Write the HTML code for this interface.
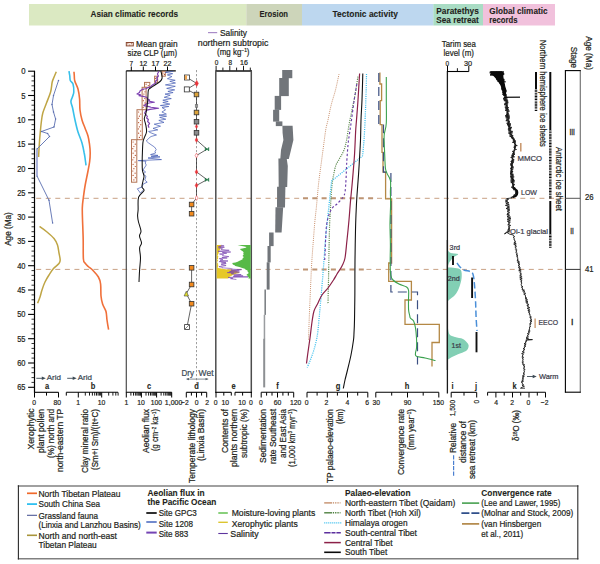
<!DOCTYPE html>
<html lang="en">
<head>
<meta charset="utf-8">
<title>Asian climatic records, erosion, tectonic activity, Paratethys Sea retreat and global climatic records</title>
<style>
html,body{margin:0;padding:0;background:#fff;}
body{width:600px;height:564px;overflow:hidden;}
svg{display:block;font-family:"Liberation Sans",sans-serif;fill:#231f20;}
</style>
</head>
<body>
<svg width="600" height="564" viewBox="0 0 600 564">
<g id="header">
<rect x="29.0" y="4.0" width="217.3" height="21.5" fill="#dbe9c2" stroke="none" stroke-width="1.00"/>
<rect x="246.3" y="4.0" width="55.7" height="21.5" fill="#cdd5ba" stroke="none" stroke-width="1.00"/>
<rect x="302.0" y="4.0" width="131.3" height="21.5" fill="#bdd7ef" stroke="none" stroke-width="1.00"/>
<rect x="433.3" y="4.0" width="49.7" height="21.5" fill="#a9dcc4" stroke="none" stroke-width="1.00"/>
<rect x="483.0" y="4.0" width="72.0" height="21.5" fill="#f1c1dc" stroke="none" stroke-width="1.00"/>
<text stroke="#231f20" stroke-width="0.10" x="90.5" y="17.4" font-size="9.30" font-weight="bold" textLength="87.5" lengthAdjust="spacingAndGlyphs">Asian climatic records</text>
<text stroke="#231f20" stroke-width="0.10" x="259.5" y="17.4" font-size="9.30" font-weight="bold" textLength="28.5" lengthAdjust="spacingAndGlyphs">Erosion</text>
<text stroke="#231f20" stroke-width="0.10" x="332.5" y="17.4" font-size="9.30" font-weight="bold" textLength="65.5" lengthAdjust="spacingAndGlyphs">Tectonic activity</text>
<text stroke="#231f20" stroke-width="0.10" x="436.3" y="13.9" font-size="9.30" font-weight="bold" textLength="42.5" lengthAdjust="spacingAndGlyphs">Paratethys</text>
<text stroke="#231f20" stroke-width="0.10" x="436.3" y="23.0" font-size="9.30" font-weight="bold" textLength="42.5" lengthAdjust="spacingAndGlyphs">Sea retreat</text>
<text stroke="#231f20" stroke-width="0.10" x="489.3" y="13.9" font-size="9.30" font-weight="bold" textLength="58.2" lengthAdjust="spacingAndGlyphs">Global climatic</text>
<text stroke="#231f20" stroke-width="0.10" x="489.3" y="23.0" font-size="9.30" font-weight="bold" textLength="28.2" lengthAdjust="spacingAndGlyphs">records</text>
</g>
<g id="stage-lines">
<line x1="36.2" y1="198.3" x2="303.0" y2="198.3" stroke="#c9a184" stroke-width="1.00" stroke-dasharray="5 4.555"/>
<line x1="303.0" y1="198.3" x2="374.0" y2="198.3" stroke="#bd9473" stroke-width="2.00" stroke-dasharray="5 4.3"/>
<line x1="377.0" y1="198.3" x2="565.0" y2="198.3" stroke="#c9a184" stroke-width="1.00" stroke-dasharray="5 4.555"/>
<line x1="36.2" y1="269.4" x2="303.0" y2="269.4" stroke="#c9a184" stroke-width="1.00" stroke-dasharray="5 4.555"/>
<line x1="303.0" y1="269.4" x2="365.0" y2="269.4" stroke="#bd9473" stroke-width="2.00" stroke-dasharray="5 4.3"/>
<line x1="366.4" y1="269.4" x2="565.0" y2="269.4" stroke="#c9a184" stroke-width="1.00" stroke-dasharray="5 4.555"/>
</g>
<g id="yaxis">
<line x1="34.5" y1="70.7" x2="34.5" y2="392.8" stroke="#000" stroke-width="1.20"/>
<line x1="28.1" y1="71.2" x2="34.5" y2="71.2" stroke="#000" stroke-width="1.10"/>
<text stroke="#231f20" stroke-width="0.22" x="25.5" y="74.2" font-size="9.00" text-anchor="end" textLength="4.3" lengthAdjust="spacingAndGlyphs">0</text>
<line x1="31.5" y1="76.1" x2="34.5" y2="76.1" stroke="#000" stroke-width="0.80"/>
<line x1="31.5" y1="80.9" x2="34.5" y2="80.9" stroke="#000" stroke-width="0.80"/>
<line x1="31.5" y1="85.8" x2="34.5" y2="85.8" stroke="#000" stroke-width="0.80"/>
<line x1="31.5" y1="90.7" x2="34.5" y2="90.7" stroke="#000" stroke-width="0.80"/>
<line x1="28.1" y1="95.5" x2="34.5" y2="95.5" stroke="#000" stroke-width="1.10"/>
<text stroke="#231f20" stroke-width="0.22" x="25.5" y="98.5" font-size="9.00" text-anchor="end" textLength="4.3" lengthAdjust="spacingAndGlyphs">5</text>
<line x1="31.5" y1="100.4" x2="34.5" y2="100.4" stroke="#000" stroke-width="0.80"/>
<line x1="31.5" y1="105.2" x2="34.5" y2="105.2" stroke="#000" stroke-width="0.80"/>
<line x1="31.5" y1="110.1" x2="34.5" y2="110.1" stroke="#000" stroke-width="0.80"/>
<line x1="31.5" y1="115.0" x2="34.5" y2="115.0" stroke="#000" stroke-width="0.80"/>
<line x1="28.1" y1="119.8" x2="34.5" y2="119.8" stroke="#000" stroke-width="1.10"/>
<text stroke="#231f20" stroke-width="0.22" x="25.5" y="122.8" font-size="9.00" text-anchor="end" textLength="8.3" lengthAdjust="spacingAndGlyphs">10</text>
<line x1="31.5" y1="124.7" x2="34.5" y2="124.7" stroke="#000" stroke-width="0.80"/>
<line x1="31.5" y1="129.6" x2="34.5" y2="129.6" stroke="#000" stroke-width="0.80"/>
<line x1="31.5" y1="134.4" x2="34.5" y2="134.4" stroke="#000" stroke-width="0.80"/>
<line x1="31.5" y1="139.3" x2="34.5" y2="139.3" stroke="#000" stroke-width="0.80"/>
<line x1="28.1" y1="144.1" x2="34.5" y2="144.1" stroke="#000" stroke-width="1.10"/>
<text stroke="#231f20" stroke-width="0.22" x="25.5" y="147.1" font-size="9.00" text-anchor="end" textLength="8.3" lengthAdjust="spacingAndGlyphs">15</text>
<line x1="31.5" y1="149.0" x2="34.5" y2="149.0" stroke="#000" stroke-width="0.80"/>
<line x1="31.5" y1="153.9" x2="34.5" y2="153.9" stroke="#000" stroke-width="0.80"/>
<line x1="31.5" y1="158.7" x2="34.5" y2="158.7" stroke="#000" stroke-width="0.80"/>
<line x1="31.5" y1="163.6" x2="34.5" y2="163.6" stroke="#000" stroke-width="0.80"/>
<line x1="28.1" y1="168.5" x2="34.5" y2="168.5" stroke="#000" stroke-width="1.10"/>
<text stroke="#231f20" stroke-width="0.22" x="25.5" y="171.5" font-size="9.00" text-anchor="end" textLength="8.3" lengthAdjust="spacingAndGlyphs">20</text>
<line x1="31.5" y1="173.3" x2="34.5" y2="173.3" stroke="#000" stroke-width="0.80"/>
<line x1="31.5" y1="178.2" x2="34.5" y2="178.2" stroke="#000" stroke-width="0.80"/>
<line x1="31.5" y1="183.0" x2="34.5" y2="183.0" stroke="#000" stroke-width="0.80"/>
<line x1="31.5" y1="187.9" x2="34.5" y2="187.9" stroke="#000" stroke-width="0.80"/>
<line x1="28.1" y1="192.8" x2="34.5" y2="192.8" stroke="#000" stroke-width="1.10"/>
<text stroke="#231f20" stroke-width="0.22" x="25.5" y="195.8" font-size="9.00" text-anchor="end" textLength="8.3" lengthAdjust="spacingAndGlyphs">25</text>
<line x1="31.5" y1="197.6" x2="34.5" y2="197.6" stroke="#000" stroke-width="0.80"/>
<line x1="31.5" y1="202.5" x2="34.5" y2="202.5" stroke="#000" stroke-width="0.80"/>
<line x1="31.5" y1="207.4" x2="34.5" y2="207.4" stroke="#000" stroke-width="0.80"/>
<line x1="31.5" y1="212.2" x2="34.5" y2="212.2" stroke="#000" stroke-width="0.80"/>
<line x1="28.1" y1="217.1" x2="34.5" y2="217.1" stroke="#000" stroke-width="1.10"/>
<text stroke="#231f20" stroke-width="0.22" x="25.5" y="220.1" font-size="9.00" text-anchor="end" textLength="8.3" lengthAdjust="spacingAndGlyphs">30</text>
<line x1="31.5" y1="222.0" x2="34.5" y2="222.0" stroke="#000" stroke-width="0.80"/>
<line x1="31.5" y1="226.8" x2="34.5" y2="226.8" stroke="#000" stroke-width="0.80"/>
<line x1="31.5" y1="231.7" x2="34.5" y2="231.7" stroke="#000" stroke-width="0.80"/>
<line x1="31.5" y1="236.5" x2="34.5" y2="236.5" stroke="#000" stroke-width="0.80"/>
<line x1="28.1" y1="241.4" x2="34.5" y2="241.4" stroke="#000" stroke-width="1.10"/>
<text stroke="#231f20" stroke-width="0.22" x="25.5" y="244.4" font-size="9.00" text-anchor="end" textLength="8.3" lengthAdjust="spacingAndGlyphs">35</text>
<line x1="31.5" y1="246.3" x2="34.5" y2="246.3" stroke="#000" stroke-width="0.80"/>
<line x1="31.5" y1="251.1" x2="34.5" y2="251.1" stroke="#000" stroke-width="0.80"/>
<line x1="31.5" y1="256.0" x2="34.5" y2="256.0" stroke="#000" stroke-width="0.80"/>
<line x1="31.5" y1="260.9" x2="34.5" y2="260.9" stroke="#000" stroke-width="0.80"/>
<line x1="28.1" y1="265.7" x2="34.5" y2="265.7" stroke="#000" stroke-width="1.10"/>
<text stroke="#231f20" stroke-width="0.22" x="25.5" y="268.7" font-size="9.00" text-anchor="end" textLength="8.3" lengthAdjust="spacingAndGlyphs">40</text>
<line x1="31.5" y1="270.6" x2="34.5" y2="270.6" stroke="#000" stroke-width="0.80"/>
<line x1="31.5" y1="275.4" x2="34.5" y2="275.4" stroke="#000" stroke-width="0.80"/>
<line x1="31.5" y1="280.3" x2="34.5" y2="280.3" stroke="#000" stroke-width="0.80"/>
<line x1="31.5" y1="285.2" x2="34.5" y2="285.2" stroke="#000" stroke-width="0.80"/>
<line x1="28.1" y1="290.0" x2="34.5" y2="290.0" stroke="#000" stroke-width="1.10"/>
<text stroke="#231f20" stroke-width="0.22" x="25.5" y="293.0" font-size="9.00" text-anchor="end" textLength="8.3" lengthAdjust="spacingAndGlyphs">45</text>
<line x1="31.5" y1="294.9" x2="34.5" y2="294.9" stroke="#000" stroke-width="0.80"/>
<line x1="31.5" y1="299.8" x2="34.5" y2="299.8" stroke="#000" stroke-width="0.80"/>
<line x1="31.5" y1="304.6" x2="34.5" y2="304.6" stroke="#000" stroke-width="0.80"/>
<line x1="31.5" y1="309.5" x2="34.5" y2="309.5" stroke="#000" stroke-width="0.80"/>
<line x1="28.1" y1="314.4" x2="34.5" y2="314.4" stroke="#000" stroke-width="1.10"/>
<text stroke="#231f20" stroke-width="0.22" x="25.5" y="317.4" font-size="9.00" text-anchor="end" textLength="8.3" lengthAdjust="spacingAndGlyphs">50</text>
<line x1="31.5" y1="319.2" x2="34.5" y2="319.2" stroke="#000" stroke-width="0.80"/>
<line x1="31.5" y1="324.1" x2="34.5" y2="324.1" stroke="#000" stroke-width="0.80"/>
<line x1="31.5" y1="328.9" x2="34.5" y2="328.9" stroke="#000" stroke-width="0.80"/>
<line x1="31.5" y1="333.8" x2="34.5" y2="333.8" stroke="#000" stroke-width="0.80"/>
<line x1="28.1" y1="338.7" x2="34.5" y2="338.7" stroke="#000" stroke-width="1.10"/>
<text stroke="#231f20" stroke-width="0.22" x="25.5" y="341.7" font-size="9.00" text-anchor="end" textLength="8.3" lengthAdjust="spacingAndGlyphs">55</text>
<line x1="31.5" y1="343.5" x2="34.5" y2="343.5" stroke="#000" stroke-width="0.80"/>
<line x1="31.5" y1="348.4" x2="34.5" y2="348.4" stroke="#000" stroke-width="0.80"/>
<line x1="31.5" y1="353.3" x2="34.5" y2="353.3" stroke="#000" stroke-width="0.80"/>
<line x1="31.5" y1="358.1" x2="34.5" y2="358.1" stroke="#000" stroke-width="0.80"/>
<line x1="28.1" y1="363.0" x2="34.5" y2="363.0" stroke="#000" stroke-width="1.10"/>
<text stroke="#231f20" stroke-width="0.22" x="25.5" y="366.0" font-size="9.00" text-anchor="end" textLength="8.3" lengthAdjust="spacingAndGlyphs">60</text>
<line x1="31.5" y1="367.8" x2="34.5" y2="367.8" stroke="#000" stroke-width="0.80"/>
<line x1="31.5" y1="372.7" x2="34.5" y2="372.7" stroke="#000" stroke-width="0.80"/>
<line x1="31.5" y1="377.6" x2="34.5" y2="377.6" stroke="#000" stroke-width="0.80"/>
<line x1="31.5" y1="382.4" x2="34.5" y2="382.4" stroke="#000" stroke-width="0.80"/>
<line x1="28.1" y1="387.3" x2="34.5" y2="387.3" stroke="#000" stroke-width="1.10"/>
<text stroke="#231f20" stroke-width="0.22" x="25.5" y="390.3" font-size="9.00" text-anchor="end" textLength="8.3" lengthAdjust="spacingAndGlyphs">65</text>
<text stroke="#231f20" stroke-width="0.22" transform="translate(11.2 229.0) rotate(-90)" font-size="8.70" text-anchor="middle" textLength="33.7" lengthAdjust="spacingAndGlyphs">Age (Ma)</text>
</g>
<g id="axes-bottom">
<line x1="34.5" y1="392.3" x2="58.5" y2="392.3" stroke="#000" stroke-width="1.10"/>
<line x1="34.5" y1="392.3" x2="34.5" y2="397.5" stroke="#000" stroke-width="1.00"/>
<line x1="58.5" y1="392.3" x2="58.5" y2="397.5" stroke="#000" stroke-width="1.00"/>
<line x1="46.5" y1="392.3" x2="46.5" y2="395.6" stroke="#000" stroke-width="1.00"/>
<text stroke="#231f20" stroke-width="0.22" x="34.2" y="405.2" font-size="7.90" text-anchor="middle" textLength="3.8" lengthAdjust="spacingAndGlyphs">0</text>
<text stroke="#231f20" stroke-width="0.22" x="57.3" y="405.2" font-size="7.90" text-anchor="middle" textLength="7.6" lengthAdjust="spacingAndGlyphs">80</text>
<line x1="36.3" y1="378.3" x2="43.3" y2="378.3" stroke="#3c4a55" stroke-width="0.90"/>
<path d="M45.8 378.3 l-4 -1.7 v3.4z" fill="#3c4a55"/>
<text stroke="#3c4a55" stroke-width="0.22" x="46.8" y="380.3" font-size="8.00" textLength="14.2" lengthAdjust="spacingAndGlyphs" fill="#3c4a55">Arid</text>
<text stroke="#231f20" stroke-width="0.10" x="47.0" y="389.0" font-size="8.80" text-anchor="middle" font-weight="bold" textLength="4.2" lengthAdjust="spacingAndGlyphs">a</text>
<text stroke="#231f20" stroke-width="0.22" transform="translate(34.2 408.5) rotate(-90)" font-size="8.70" text-anchor="end" textLength="41.0" lengthAdjust="spacingAndGlyphs">Xerophytic</text>
<text stroke="#231f20" stroke-width="0.22" transform="translate(44.0 409.0) rotate(-90)" font-size="8.70" text-anchor="end" textLength="44.0" lengthAdjust="spacingAndGlyphs">plant pollen</text>
<text stroke="#231f20" stroke-width="0.22" transform="translate(53.6 409.0) rotate(-90)" font-size="8.70" text-anchor="end" textLength="49.0" lengthAdjust="spacingAndGlyphs">(%) north and</text>
<text stroke="#231f20" stroke-width="0.22" transform="translate(63.0 409.0) rotate(-90)" font-size="8.70" text-anchor="end" textLength="63.0" lengthAdjust="spacingAndGlyphs">north-eastern TP</text>
<line x1="66.3" y1="392.3" x2="118.0" y2="392.3" stroke="#000" stroke-width="1.10"/>
<line x1="66.3" y1="392.3" x2="66.3" y2="395.6" stroke="#000" stroke-width="1.00"/>
<line x1="78.3" y1="392.3" x2="78.3" y2="397.5" stroke="#000" stroke-width="1.00"/>
<line x1="101.7" y1="392.3" x2="101.7" y2="397.5" stroke="#000" stroke-width="1.00"/>
<line x1="85.3" y1="392.3" x2="85.3" y2="395.6" stroke="#000" stroke-width="0.90"/>
<line x1="89.5" y1="392.3" x2="89.5" y2="395.6" stroke="#000" stroke-width="0.90"/>
<line x1="92.4" y1="392.3" x2="92.4" y2="395.6" stroke="#000" stroke-width="0.90"/>
<line x1="94.7" y1="392.3" x2="94.7" y2="395.6" stroke="#000" stroke-width="0.90"/>
<line x1="96.5" y1="392.3" x2="96.5" y2="395.6" stroke="#000" stroke-width="0.90"/>
<line x1="98.1" y1="392.3" x2="98.1" y2="395.6" stroke="#000" stroke-width="0.90"/>
<line x1="99.4" y1="392.3" x2="99.4" y2="395.6" stroke="#000" stroke-width="0.90"/>
<line x1="100.6" y1="392.3" x2="100.6" y2="395.6" stroke="#000" stroke-width="0.90"/>
<line x1="108.7" y1="392.3" x2="108.7" y2="395.6" stroke="#000" stroke-width="0.90"/>
<line x1="112.9" y1="392.3" x2="112.9" y2="395.6" stroke="#000" stroke-width="0.90"/>
<line x1="115.8" y1="392.3" x2="115.8" y2="395.6" stroke="#000" stroke-width="0.90"/>
<line x1="118.1" y1="392.3" x2="118.1" y2="395.6" stroke="#000" stroke-width="0.90"/>
<text stroke="#231f20" stroke-width="0.22" x="78.1" y="405.2" font-size="7.90" text-anchor="middle" textLength="3.8" lengthAdjust="spacingAndGlyphs">1</text>
<text stroke="#231f20" stroke-width="0.22" x="101.5" y="405.2" font-size="7.90" text-anchor="middle" textLength="7.6" lengthAdjust="spacingAndGlyphs">10</text>
<line x1="67.2" y1="378.3" x2="74.2" y2="378.3" stroke="#3c4a55" stroke-width="0.90"/>
<path d="M76.7 378.3 l-4 -1.7 v3.4z" fill="#3c4a55"/>
<text stroke="#3c4a55" stroke-width="0.22" x="77.8" y="380.3" font-size="8.00" textLength="14.2" lengthAdjust="spacingAndGlyphs" fill="#3c4a55">Arid</text>
<text stroke="#231f20" stroke-width="0.10" x="93.0" y="389.0" font-size="8.80" text-anchor="middle" font-weight="bold" textLength="4.6" lengthAdjust="spacingAndGlyphs">b</text>
<text stroke="#231f20" stroke-width="0.22" transform="translate(88.0 409.0) rotate(-90)" font-size="8.70" text-anchor="end" textLength="64.0" lengthAdjust="spacingAndGlyphs">Clay mineral ratio</text>
<text stroke="#231f20" stroke-width="0.22" transform="translate(97.6 409.0) rotate(-90)" font-size="8.70" text-anchor="end" textLength="61.0" lengthAdjust="spacingAndGlyphs">(Sm+I Sm)/(It+C)</text>
<line x1="126.3" y1="70.8" x2="126.3" y2="392.8" stroke="#4d4d4d" stroke-width="1.20"/>
<line x1="126.3" y1="392.3" x2="171.7" y2="392.3" stroke="#000" stroke-width="1.10"/>
<line x1="126.3" y1="392.3" x2="126.3" y2="397.5" stroke="#000" stroke-width="1.00"/>
<line x1="141.4" y1="392.3" x2="141.4" y2="397.5" stroke="#000" stroke-width="1.00"/>
<line x1="156.6" y1="392.3" x2="156.6" y2="397.5" stroke="#000" stroke-width="1.00"/>
<line x1="171.7" y1="392.3" x2="171.7" y2="397.5" stroke="#000" stroke-width="1.00"/>
<line x1="130.9" y1="392.3" x2="130.9" y2="395.6" stroke="#000" stroke-width="0.90"/>
<line x1="133.5" y1="392.3" x2="133.5" y2="395.6" stroke="#000" stroke-width="0.90"/>
<line x1="135.4" y1="392.3" x2="135.4" y2="395.6" stroke="#000" stroke-width="0.90"/>
<line x1="136.9" y1="392.3" x2="136.9" y2="395.6" stroke="#000" stroke-width="0.90"/>
<line x1="138.1" y1="392.3" x2="138.1" y2="395.6" stroke="#000" stroke-width="0.90"/>
<line x1="139.1" y1="392.3" x2="139.1" y2="395.6" stroke="#000" stroke-width="0.90"/>
<line x1="140.0" y1="392.3" x2="140.0" y2="395.6" stroke="#000" stroke-width="0.90"/>
<line x1="140.7" y1="392.3" x2="140.7" y2="395.6" stroke="#000" stroke-width="0.90"/>
<line x1="146.0" y1="392.3" x2="146.0" y2="395.6" stroke="#000" stroke-width="0.90"/>
<line x1="148.6" y1="392.3" x2="148.6" y2="395.6" stroke="#000" stroke-width="0.90"/>
<line x1="150.5" y1="392.3" x2="150.5" y2="395.6" stroke="#000" stroke-width="0.90"/>
<line x1="152.0" y1="392.3" x2="152.0" y2="395.6" stroke="#000" stroke-width="0.90"/>
<line x1="153.2" y1="392.3" x2="153.2" y2="395.6" stroke="#000" stroke-width="0.90"/>
<line x1="154.2" y1="392.3" x2="154.2" y2="395.6" stroke="#000" stroke-width="0.90"/>
<line x1="155.1" y1="392.3" x2="155.1" y2="395.6" stroke="#000" stroke-width="0.90"/>
<line x1="155.9" y1="392.3" x2="155.9" y2="395.6" stroke="#000" stroke-width="0.90"/>
<line x1="161.1" y1="392.3" x2="161.1" y2="395.6" stroke="#000" stroke-width="0.90"/>
<line x1="163.8" y1="392.3" x2="163.8" y2="395.6" stroke="#000" stroke-width="0.90"/>
<line x1="165.7" y1="392.3" x2="165.7" y2="395.6" stroke="#000" stroke-width="0.90"/>
<line x1="167.1" y1="392.3" x2="167.1" y2="395.6" stroke="#000" stroke-width="0.90"/>
<line x1="168.3" y1="392.3" x2="168.3" y2="395.6" stroke="#000" stroke-width="0.90"/>
<line x1="169.3" y1="392.3" x2="169.3" y2="395.6" stroke="#000" stroke-width="0.90"/>
<line x1="170.2" y1="392.3" x2="170.2" y2="395.6" stroke="#000" stroke-width="0.90"/>
<line x1="171.0" y1="392.3" x2="171.0" y2="395.6" stroke="#000" stroke-width="0.90"/>
<text stroke="#231f20" stroke-width="0.22" x="126.3" y="405.2" font-size="7.90" text-anchor="middle" textLength="3.8" lengthAdjust="spacingAndGlyphs">1</text>
<text stroke="#231f20" stroke-width="0.22" x="141.0" y="405.2" font-size="7.90" text-anchor="middle" textLength="7.6" lengthAdjust="spacingAndGlyphs">10</text>
<text stroke="#231f20" stroke-width="0.22" x="156.4" y="405.2" font-size="7.90" text-anchor="middle" textLength="11.3" lengthAdjust="spacingAndGlyphs">100</text>
<text stroke="#231f20" stroke-width="0.22" x="173.6" y="405.2" font-size="7.90" text-anchor="middle" textLength="17.5" lengthAdjust="spacingAndGlyphs">1,000</text>
<text stroke="#231f20" stroke-width="0.10" x="149.0" y="389.0" font-size="8.80" text-anchor="middle" font-weight="bold" textLength="4.2" lengthAdjust="spacingAndGlyphs">c</text>
<text stroke="#231f20" stroke-width="0.22" transform="translate(148.5 409.0) rotate(-90)" font-size="8.70" text-anchor="end" textLength="44.0" lengthAdjust="spacingAndGlyphs">Aeolian flux</text>
<text stroke="#231f20" stroke-width="0.22" transform="translate(158.1 409.0) rotate(-90)" font-size="8.70" text-anchor="end" textLength="42.0" lengthAdjust="spacingAndGlyphs">(g cm<tspan font-size="5" dy="-2.6">−2</tspan><tspan dy="2.6"> ka</tspan><tspan font-size="5" dy="-2.6">−1</tspan><tspan dy="2.6">)</tspan></text>
<line x1="126.3" y1="70.9" x2="175.8" y2="70.9" stroke="#000" stroke-width="1.10"/>
<line x1="131.3" y1="66.5" x2="131.3" y2="70.9" stroke="#000" stroke-width="1.00"/>
<text stroke="#231f20" stroke-width="0.22" x="131.3" y="66.0" font-size="7.60" text-anchor="middle" textLength="3.6" lengthAdjust="spacingAndGlyphs">7</text>
<line x1="143.3" y1="66.5" x2="143.3" y2="70.9" stroke="#000" stroke-width="1.00"/>
<text stroke="#231f20" stroke-width="0.22" x="143.3" y="66.0" font-size="7.60" text-anchor="middle" textLength="7.8" lengthAdjust="spacingAndGlyphs">12</text>
<line x1="155.5" y1="66.5" x2="155.5" y2="70.9" stroke="#000" stroke-width="1.00"/>
<text stroke="#231f20" stroke-width="0.22" x="155.5" y="66.0" font-size="7.60" text-anchor="middle" textLength="7.8" lengthAdjust="spacingAndGlyphs">17</text>
<line x1="167.5" y1="66.5" x2="167.5" y2="70.9" stroke="#000" stroke-width="1.00"/>
<text stroke="#231f20" stroke-width="0.22" x="167.5" y="66.0" font-size="7.60" text-anchor="middle" textLength="7.8" lengthAdjust="spacingAndGlyphs">22</text>
<text stroke="#231f20" stroke-width="0.22" x="136.0" y="47.2" font-size="9.20" textLength="41.5" lengthAdjust="spacingAndGlyphs">Mean grain</text>
<text stroke="#231f20" stroke-width="0.22" x="127.5" y="56.4" font-size="9.20" textLength="49.5" lengthAdjust="spacingAndGlyphs">size CLP (µm)</text>
<rect x="126.3" y="42.5" width="7.0" height="3.4" fill="#f6e9e2" stroke="#8a4a32" stroke-width="1.00"/>
<circle cx="127.8" cy="43.7" r="0.5" fill="#a0482c"/>
<circle cx="129.7" cy="44.9" r="0.5" fill="#a0482c"/>
<circle cx="131.5" cy="43.8" r="0.5" fill="#a0482c"/>
<line x1="186.3" y1="392.3" x2="206.7" y2="392.3" stroke="#000" stroke-width="1.10"/>
<line x1="186.3" y1="392.3" x2="186.3" y2="397.5" stroke="#000" stroke-width="1.00"/>
<line x1="196.5" y1="392.3" x2="196.5" y2="397.5" stroke="#000" stroke-width="1.00"/>
<line x1="206.7" y1="392.3" x2="206.7" y2="397.5" stroke="#000" stroke-width="1.00"/>
<line x1="191.4" y1="392.3" x2="191.4" y2="395.6" stroke="#000" stroke-width="1.00"/>
<line x1="201.6" y1="392.3" x2="201.6" y2="395.6" stroke="#000" stroke-width="1.00"/>
<text stroke="#231f20" stroke-width="0.22" x="188.7" y="405.2" font-size="7.90" text-anchor="end" textLength="7.6" lengthAdjust="spacingAndGlyphs">−2</text>
<text stroke="#231f20" stroke-width="0.22" x="196.6" y="405.2" font-size="7.90" text-anchor="middle" textLength="3.8" lengthAdjust="spacingAndGlyphs">0</text>
<text stroke="#231f20" stroke-width="0.22" x="207.2" y="405.2" font-size="7.90" text-anchor="middle" textLength="3.8" lengthAdjust="spacingAndGlyphs">2</text>
<text stroke="#231f20" stroke-width="0.10" x="196.5" y="389.0" font-size="8.80" text-anchor="middle" font-weight="bold" textLength="4.6" lengthAdjust="spacingAndGlyphs">d</text>
<text stroke="#3c4a55" stroke-width="0.22" x="181.5" y="375.9" font-size="8.40" textLength="12.5" lengthAdjust="spacingAndGlyphs" fill="#3c4a55">Dry</text>
<text stroke="#3c4a55" stroke-width="0.22" x="198.6" y="375.9" font-size="8.40" textLength="14.9" lengthAdjust="spacingAndGlyphs" fill="#3c4a55">Wet</text>
<line x1="187.0" y1="379.1" x2="207.5" y2="379.1" stroke="#55606a" stroke-width="0.70"/>
<path d="M185.8 379.1 l3.2 -1.2 v2.4z M208.7 379.1 l-3.2 -1.2 v2.4z" fill="#55606a"/>
<text stroke="#231f20" stroke-width="0.22" transform="translate(195.1 409.0) rotate(-90)" font-size="8.70" text-anchor="end" textLength="74.0" lengthAdjust="spacingAndGlyphs">Temperate lithology</text>
<text stroke="#231f20" stroke-width="0.22" transform="translate(204.0 409.0) rotate(-90)" font-size="8.70" text-anchor="end" textLength="52.0" lengthAdjust="spacingAndGlyphs">(Linxia Basin)</text>
<line x1="215.8" y1="71.2" x2="215.8" y2="392.8" stroke="#4d4d4d" stroke-width="1.50"/>
<line x1="251.3" y1="71.2" x2="251.3" y2="392.8" stroke="#4d4d4d" stroke-width="1.50"/>
<line x1="215.3" y1="70.9" x2="252.0" y2="70.9" stroke="#4d4d4d" stroke-width="2.00"/>
<line x1="215.3" y1="392.3" x2="231.3" y2="392.3" stroke="#000" stroke-width="1.10"/>
<line x1="235.0" y1="392.3" x2="252.0" y2="392.3" stroke="#000" stroke-width="1.10"/>
<line x1="216.0" y1="392.3" x2="216.0" y2="397.5" stroke="#000" stroke-width="1.00"/>
<line x1="251.3" y1="392.3" x2="251.3" y2="397.5" stroke="#000" stroke-width="1.00"/>
<line x1="223.8" y1="392.3" x2="223.8" y2="395.6" stroke="#000" stroke-width="1.00"/>
<line x1="242.6" y1="392.3" x2="242.6" y2="395.6" stroke="#000" stroke-width="1.00"/>
<line x1="231.3" y1="392.3" x2="231.3" y2="395.6" stroke="#000" stroke-width="1.00"/>
<line x1="235.0" y1="392.3" x2="235.0" y2="395.6" stroke="#000" stroke-width="1.00"/>
<text stroke="#231f20" stroke-width="0.22" x="215.6" y="405.2" font-size="7.90" text-anchor="middle" textLength="3.8" lengthAdjust="spacingAndGlyphs">0</text>
<text stroke="#231f20" stroke-width="0.22" x="225.2" y="405.2" font-size="7.90" text-anchor="middle" textLength="7.6" lengthAdjust="spacingAndGlyphs">10</text>
<text stroke="#231f20" stroke-width="0.22" x="242.0" y="405.2" font-size="7.90" text-anchor="middle" textLength="7.6" lengthAdjust="spacingAndGlyphs">10</text>
<text stroke="#231f20" stroke-width="0.22" x="250.8" y="405.2" font-size="7.90" text-anchor="middle" textLength="3.8" lengthAdjust="spacingAndGlyphs">0</text>
<text stroke="#231f20" stroke-width="0.10" x="233.5" y="389.0" font-size="8.80" text-anchor="middle" font-weight="bold" textLength="4.2" lengthAdjust="spacingAndGlyphs">e</text>
<line x1="216.1" y1="65.8" x2="216.1" y2="70.5" stroke="#000" stroke-width="0.90"/>
<line x1="222.9" y1="67.6" x2="222.9" y2="70.5" stroke="#000" stroke-width="0.90"/>
<line x1="229.8" y1="65.8" x2="229.8" y2="70.5" stroke="#000" stroke-width="0.90"/>
<line x1="236.6" y1="67.6" x2="236.6" y2="70.5" stroke="#000" stroke-width="0.90"/>
<line x1="243.5" y1="65.8" x2="243.5" y2="70.5" stroke="#000" stroke-width="0.90"/>
<line x1="250.3" y1="67.6" x2="250.3" y2="70.5" stroke="#000" stroke-width="0.90"/>
<text stroke="#231f20" stroke-width="0.22" x="216.5" y="65.3" font-size="7.60" text-anchor="middle" textLength="3.6" lengthAdjust="spacingAndGlyphs">0</text>
<text stroke="#231f20" stroke-width="0.22" x="230.2" y="65.3" font-size="7.60" text-anchor="middle" textLength="3.6" lengthAdjust="spacingAndGlyphs">8</text>
<text stroke="#231f20" stroke-width="0.22" x="244.0" y="65.3" font-size="7.60" text-anchor="middle" textLength="7.8" lengthAdjust="spacingAndGlyphs">16</text>
<line x1="208.0" y1="32.6" x2="217.2" y2="32.6" stroke="#a98cc8" stroke-width="1.20"/>
<text stroke="#231f20" stroke-width="0.22" x="220.0" y="35.8" font-size="9.20" textLength="27.0" lengthAdjust="spacingAndGlyphs">Salinity</text>
<text stroke="#231f20" stroke-width="0.22" x="197.8" y="45.8" font-size="9.20" textLength="70.5" lengthAdjust="spacingAndGlyphs">northern subtropic</text>
<text stroke="#231f20" stroke-width="0.22" x="217.0" y="55.2" font-size="9.20" textLength="32.5" lengthAdjust="spacingAndGlyphs">(mg kg<tspan font-size="5.6" dy="-3">−1</tspan><tspan dy="3">)</tspan></text>
<text stroke="#231f20" stroke-width="0.22" transform="translate(227.5 409.0) rotate(-90)" font-size="8.70" text-anchor="end" textLength="44.0" lengthAdjust="spacingAndGlyphs">Contents of</text>
<text stroke="#231f20" stroke-width="0.22" transform="translate(237.4 409.0) rotate(-90)" font-size="8.70" text-anchor="end" textLength="58.0" lengthAdjust="spacingAndGlyphs">plants northern</text>
<text stroke="#231f20" stroke-width="0.22" transform="translate(247.0 409.0) rotate(-90)" font-size="8.70" text-anchor="end" textLength="49.0" lengthAdjust="spacingAndGlyphs">subtropic (%)</text>
<line x1="261.2" y1="392.3" x2="293.7" y2="392.3" stroke="#000" stroke-width="1.10"/>
<line x1="261.2" y1="392.3" x2="261.2" y2="397.5" stroke="#000" stroke-width="1.00"/>
<line x1="277.5" y1="392.3" x2="277.5" y2="397.5" stroke="#000" stroke-width="1.00"/>
<line x1="293.7" y1="392.3" x2="293.7" y2="397.5" stroke="#000" stroke-width="1.00"/>
<line x1="266.6" y1="392.3" x2="266.6" y2="395.6" stroke="#000" stroke-width="1.00"/>
<line x1="272.0" y1="392.3" x2="272.0" y2="395.6" stroke="#000" stroke-width="1.00"/>
<line x1="282.9" y1="392.3" x2="282.9" y2="395.6" stroke="#000" stroke-width="1.00"/>
<line x1="288.3" y1="392.3" x2="288.3" y2="395.6" stroke="#000" stroke-width="1.00"/>
<text stroke="#231f20" stroke-width="0.22" x="261.0" y="405.2" font-size="7.90" text-anchor="middle" textLength="3.8" lengthAdjust="spacingAndGlyphs">0</text>
<text stroke="#231f20" stroke-width="0.22" x="277.5" y="405.2" font-size="7.90" text-anchor="middle" textLength="7.6" lengthAdjust="spacingAndGlyphs">60</text>
<text stroke="#231f20" stroke-width="0.22" x="295.6" y="405.2" font-size="7.90" text-anchor="middle" textLength="11.3" lengthAdjust="spacingAndGlyphs">120</text>
<text stroke="#231f20" stroke-width="0.10" x="277.5" y="389.0" font-size="8.80" text-anchor="middle" font-weight="bold" textLength="2.5" lengthAdjust="spacingAndGlyphs">f</text>
<text stroke="#231f20" stroke-width="0.22" transform="translate(265.8 409.0) rotate(-90)" font-size="8.70" text-anchor="end" textLength="54.0" lengthAdjust="spacingAndGlyphs">Sedimentation</text>
<text stroke="#231f20" stroke-width="0.22" transform="translate(276.1 409.0) rotate(-90)" font-size="8.70" text-anchor="end" textLength="55.0" lengthAdjust="spacingAndGlyphs">rate Southeast</text>
<text stroke="#231f20" stroke-width="0.22" transform="translate(285.7 409.0) rotate(-90)" font-size="8.70" text-anchor="end" textLength="49.0" lengthAdjust="spacingAndGlyphs">and East Asia</text>
<text stroke="#231f20" stroke-width="0.22" transform="translate(295.0 409.0) rotate(-90)" font-size="8.70" text-anchor="end" textLength="58.0" lengthAdjust="spacingAndGlyphs">(1,000 km<tspan font-size="5" dy="-2.6">3</tspan><tspan dy="2.6"> myr</tspan><tspan font-size="5" dy="-2.6">−1</tspan><tspan dy="2.6">)</tspan></text>
<line x1="307.0" y1="392.3" x2="367.8" y2="392.3" stroke="#000" stroke-width="1.10"/>
<line x1="307.0" y1="392.3" x2="307.0" y2="397.5" stroke="#000" stroke-width="1.00"/>
<line x1="327.3" y1="392.3" x2="327.3" y2="397.5" stroke="#000" stroke-width="1.00"/>
<line x1="347.5" y1="392.3" x2="347.5" y2="397.5" stroke="#000" stroke-width="1.00"/>
<line x1="367.8" y1="392.3" x2="367.8" y2="397.5" stroke="#000" stroke-width="1.00"/>
<line x1="317.1" y1="392.3" x2="317.1" y2="395.6" stroke="#000" stroke-width="1.00"/>
<line x1="337.4" y1="392.3" x2="337.4" y2="395.6" stroke="#000" stroke-width="1.00"/>
<line x1="357.7" y1="392.3" x2="357.7" y2="395.6" stroke="#000" stroke-width="1.00"/>
<text stroke="#231f20" stroke-width="0.22" x="306.6" y="405.2" font-size="7.90" text-anchor="middle" textLength="3.8" lengthAdjust="spacingAndGlyphs">0</text>
<text stroke="#231f20" stroke-width="0.22" x="326.4" y="405.2" font-size="7.90" text-anchor="middle" textLength="3.8" lengthAdjust="spacingAndGlyphs">2</text>
<text stroke="#231f20" stroke-width="0.22" x="347.4" y="405.2" font-size="7.90" text-anchor="middle" textLength="3.8" lengthAdjust="spacingAndGlyphs">4</text>
<text stroke="#231f20" stroke-width="0.22" x="367.2" y="405.2" font-size="7.90" text-anchor="middle" textLength="3.8" lengthAdjust="spacingAndGlyphs">6</text>
<text stroke="#231f20" stroke-width="0.10" x="338.0" y="389.0" font-size="8.80" text-anchor="middle" font-weight="bold" textLength="4.6" lengthAdjust="spacingAndGlyphs">g</text>
<text stroke="#231f20" stroke-width="0.22" transform="translate(333.4 409.0) rotate(-90)" font-size="8.70" text-anchor="end" textLength="74.0" lengthAdjust="spacingAndGlyphs">TP palaeo-elevation</text>
<text stroke="#231f20" stroke-width="0.22" transform="translate(343.0 409.0) rotate(-90)" font-size="8.70" text-anchor="end" textLength="15.0" lengthAdjust="spacingAndGlyphs">(km)</text>
<line x1="375.8" y1="392.3" x2="438.8" y2="392.3" stroke="#000" stroke-width="1.10"/>
<line x1="375.8" y1="392.3" x2="375.8" y2="397.5" stroke="#000" stroke-width="1.00"/>
<line x1="407.5" y1="392.3" x2="407.5" y2="397.5" stroke="#000" stroke-width="1.00"/>
<line x1="438.8" y1="392.3" x2="438.8" y2="397.5" stroke="#000" stroke-width="1.00"/>
<line x1="391.7" y1="392.3" x2="391.7" y2="395.6" stroke="#000" stroke-width="1.00"/>
<line x1="423.2" y1="392.3" x2="423.2" y2="395.6" stroke="#000" stroke-width="1.00"/>
<text stroke="#231f20" stroke-width="0.22" x="376.2" y="405.2" font-size="7.90" text-anchor="middle" textLength="7.6" lengthAdjust="spacingAndGlyphs">30</text>
<text stroke="#231f20" stroke-width="0.22" x="407.5" y="405.2" font-size="7.90" text-anchor="middle" textLength="7.6" lengthAdjust="spacingAndGlyphs">90</text>
<text stroke="#231f20" stroke-width="0.22" x="438.4" y="405.2" font-size="7.90" text-anchor="middle" textLength="11.3" lengthAdjust="spacingAndGlyphs">150</text>
<text stroke="#231f20" stroke-width="0.10" x="407.0" y="389.0" font-size="8.80" text-anchor="middle" font-weight="bold" textLength="4.6" lengthAdjust="spacingAndGlyphs">h</text>
<text stroke="#231f20" stroke-width="0.22" transform="translate(404.2 409.0) rotate(-90)" font-size="8.70" text-anchor="end" textLength="66.0" lengthAdjust="spacingAndGlyphs">Convergence rate</text>
<text stroke="#231f20" stroke-width="0.22" transform="translate(413.9 409.0) rotate(-90)" font-size="8.70" text-anchor="end" textLength="41.0" lengthAdjust="spacingAndGlyphs">(mm year<tspan font-size="5" dy="-2.6">−1</tspan><tspan dy="2.6">)</tspan></text>
<line x1="447.4" y1="71.0" x2="447.4" y2="393.5" stroke="#1a1a1a" stroke-width="1.30"/>
<line x1="447.4" y1="71.5" x2="468.8" y2="71.5" stroke="#000" stroke-width="1.10"/>
<line x1="447.5" y1="66.0" x2="447.5" y2="71.5" stroke="#000" stroke-width="1.00"/>
<line x1="457.4" y1="68.2" x2="457.4" y2="71.5" stroke="#000" stroke-width="0.90"/>
<line x1="468.8" y1="66.0" x2="468.8" y2="71.5" stroke="#000" stroke-width="1.00"/>
<text stroke="#231f20" stroke-width="0.22" x="447.2" y="65.7" font-size="7.60" text-anchor="middle" textLength="3.6" lengthAdjust="spacingAndGlyphs">0</text>
<text stroke="#231f20" stroke-width="0.22" x="468.0" y="65.7" font-size="7.60" text-anchor="middle" textLength="8.2" lengthAdjust="spacingAndGlyphs">30</text>
<text stroke="#231f20" stroke-width="0.22" x="441.8" y="46.7" font-size="9.20" textLength="34.0" lengthAdjust="spacingAndGlyphs">Tarim sea</text>
<text stroke="#231f20" stroke-width="0.22" x="443.5" y="56.1" font-size="9.20" textLength="30.5" lengthAdjust="spacingAndGlyphs">level (m)</text>
<line x1="451.2" y1="392.3" x2="476.7" y2="392.3" stroke="#000" stroke-width="1.10"/>
<line x1="451.2" y1="392.3" x2="451.2" y2="397.5" stroke="#000" stroke-width="1.00"/>
<line x1="476.7" y1="392.3" x2="476.7" y2="397.5" stroke="#000" stroke-width="1.00"/>
<line x1="464.0" y1="392.3" x2="464.0" y2="395.6" stroke="#000" stroke-width="1.00"/>
<text stroke="#231f20" stroke-width="0.10" x="452.5" y="389.0" font-size="8.80" text-anchor="middle" font-weight="bold" textLength="2.1" lengthAdjust="spacingAndGlyphs">i</text>
<text stroke="#231f20" stroke-width="0.10" x="476.0" y="389.0" font-size="8.80" text-anchor="middle" font-weight="bold" textLength="2.1" lengthAdjust="spacingAndGlyphs">j</text>
<text stroke="#231f20" stroke-width="0.22" transform="translate(455.1 399.8) rotate(-90)" font-size="7.60" text-anchor="end" textLength="16.5" lengthAdjust="spacingAndGlyphs">1,500</text>
<text stroke="#231f20" stroke-width="0.22" transform="translate(479.0 399.8) rotate(-90)" font-size="7.60" text-anchor="end" textLength="3.6" lengthAdjust="spacingAndGlyphs">0</text>
<text stroke="#231f20" stroke-width="0.22" transform="translate(455.8 423.0) rotate(-90)" font-size="8.70" text-anchor="end" textLength="30.0" lengthAdjust="spacingAndGlyphs">Relative</text>
<line x1="453.6" y1="455.3" x2="453.6" y2="476.8" stroke="#4a7fd0" stroke-width="1.20" stroke-dasharray="4.2 1.2"/>
<text stroke="#231f20" stroke-width="0.22" transform="translate(465.5 421.0) rotate(-90)" font-size="8.70" text-anchor="end" textLength="42.0" lengthAdjust="spacingAndGlyphs">distance of</text>
<text stroke="#231f20" stroke-width="0.22" transform="translate(475.2 420.0) rotate(-90)" font-size="8.70" text-anchor="end" textLength="59.0" lengthAdjust="spacingAndGlyphs">sea retreat (km)</text>
<line x1="487.6" y1="392.3" x2="545.5" y2="392.3" stroke="#000" stroke-width="1.10"/>
<line x1="495.9" y1="392.3" x2="495.9" y2="397.5" stroke="#000" stroke-width="1.00"/>
<line x1="512.5" y1="392.3" x2="512.5" y2="397.5" stroke="#000" stroke-width="1.00"/>
<line x1="529.0" y1="392.3" x2="529.0" y2="397.5" stroke="#000" stroke-width="1.00"/>
<line x1="545.5" y1="392.3" x2="545.5" y2="397.5" stroke="#000" stroke-width="1.00"/>
<line x1="487.6" y1="392.3" x2="487.6" y2="395.6" stroke="#000" stroke-width="1.00"/>
<line x1="504.2" y1="392.3" x2="504.2" y2="395.6" stroke="#000" stroke-width="1.00"/>
<line x1="520.7" y1="392.3" x2="520.7" y2="395.6" stroke="#000" stroke-width="1.00"/>
<line x1="537.3" y1="392.3" x2="537.3" y2="395.6" stroke="#000" stroke-width="1.00"/>
<text stroke="#231f20" stroke-width="0.22" x="496.1" y="405.2" font-size="7.90" text-anchor="middle" textLength="3.8" lengthAdjust="spacingAndGlyphs">4</text>
<text stroke="#231f20" stroke-width="0.22" x="512.2" y="405.2" font-size="7.90" text-anchor="middle" textLength="3.8" lengthAdjust="spacingAndGlyphs">2</text>
<text stroke="#231f20" stroke-width="0.22" x="528.5" y="405.2" font-size="7.90" text-anchor="middle" textLength="3.8" lengthAdjust="spacingAndGlyphs">0</text>
<text stroke="#231f20" stroke-width="0.22" x="548.4" y="405.2" font-size="7.90" text-anchor="end" textLength="7.6" lengthAdjust="spacingAndGlyphs">−2</text>
<text stroke="#231f20" stroke-width="0.10" x="514.7" y="389.0" font-size="8.80" text-anchor="middle" font-weight="bold" textLength="4.2" lengthAdjust="spacingAndGlyphs">k</text>
<text stroke="#231f20" stroke-width="0.22" transform="translate(519.2 410.0) rotate(-90)" font-size="8.70" text-anchor="end" textLength="31.0" lengthAdjust="spacingAndGlyphs">δ<tspan font-size="5" dy="-2.6">18</tspan><tspan dy="2.6">O (‰)</tspan></text>
</g>
<g id="stage">
<line x1="565.4" y1="70.5" x2="565.4" y2="392.6" stroke="#000" stroke-width="1.10"/>
<line x1="580.3" y1="70.5" x2="580.3" y2="392.6" stroke="#777" stroke-width="1.20"/>
<line x1="564.9" y1="70.6" x2="580.8" y2="70.6" stroke="#000" stroke-width="1.10"/>
<line x1="564.9" y1="392.2" x2="580.8" y2="392.2" stroke="#000" stroke-width="1.10"/>
<line x1="565.4" y1="198.3" x2="580.3" y2="198.3" stroke="#555" stroke-width="1.00"/>
<line x1="565.4" y1="269.4" x2="580.3" y2="269.4" stroke="#333" stroke-width="1.00"/>
<text stroke="#231f20" stroke-width="0.35" x="572.2" y="135.3" font-size="8.80" text-anchor="middle" textLength="5.6" lengthAdjust="spacingAndGlyphs">III</text>
<text stroke="#231f20" stroke-width="0.35" x="572.0" y="234.1" font-size="8.80" text-anchor="middle" textLength="3.6" lengthAdjust="spacingAndGlyphs">II</text>
<text stroke="#231f20" stroke-width="0.35" x="572.2" y="325.0" font-size="8.80" text-anchor="middle">I</text>
<text stroke="#231f20" stroke-width="0.22" x="585.0" y="200.3" font-size="8.30" textLength="8.6" lengthAdjust="spacingAndGlyphs">26</text>
<text stroke="#231f20" stroke-width="0.22" x="585.0" y="272.2" font-size="8.30" textLength="8.6" lengthAdjust="spacingAndGlyphs">41</text>
<text stroke="#231f20" stroke-width="0.22" transform="translate(570.6 46.7) rotate(90)" font-size="8.70" textLength="21.5" lengthAdjust="spacingAndGlyphs">Stage</text>
<text stroke="#231f20" stroke-width="0.22" transform="translate(585.9 36.2) rotate(90)" font-size="8.70" textLength="33.8" lengthAdjust="spacingAndGlyphs">Age (Ma)</text>
</g>
<g id="panel-a">
<path d="M56.3 71.7 C56.0 72.4 55.2 74.3 54.5 76.0 C53.8 77.7 52.9 79.3 52.2 82.0 C51.6 84.7 51.6 88.5 50.6 92.0 C49.6 95.5 47.8 99.5 46.5 103.0 C45.2 106.5 43.7 109.7 42.8 113.0 C41.9 116.3 41.6 119.7 41.2 123.0 C40.8 126.3 40.5 129.7 40.2 133.0 C39.9 136.3 39.6 139.7 39.4 143.0 C39.2 146.3 38.9 150.7 38.8 153.0 C38.7 155.3 38.6 156.3 38.6 157.0" fill="none" stroke="#bfa545" stroke-width="1.50"/>
<path d="M39.5 226.5 C40.8 227.4 44.6 230.0 47.0 232.0 C49.4 234.0 52.2 236.3 54.0 238.5 C55.8 240.7 56.7 242.6 57.5 245.0 C58.3 247.4 58.5 250.5 59.0 253.0 C59.5 255.5 60.2 258.2 60.2 260.0 C60.2 261.8 60.1 262.1 59.0 263.5 C57.9 264.9 55.2 266.6 53.5 268.5 C51.8 270.4 50.4 272.8 49.0 275.0 C47.6 277.2 46.2 279.5 45.0 282.0 C43.8 284.5 42.8 287.5 42.0 290.0 C41.2 292.5 40.7 294.8 40.0 297.0 C39.3 299.2 38.0 302.2 37.6 303.2" fill="none" stroke="#bfa545" stroke-width="1.50"/>
<path d="M58.5 80.5 L53.5 95.5 L52.0 104.5 L53.5 112.0 L55.6 119.0 L54.0 127.0 L41.5 131.5 L47.6 133.5 L49.5 136.5 L37.0 149.0 L37.0 176.0 L49.0 200.3 L52.6 223.0" fill="none" stroke="#5a6eb0" stroke-width="0.90" stroke-linejoin="round"/>
<circle cx="58.5" cy="80.5" r="0.75" fill="#5a6eb0"/>
<circle cx="53.5" cy="95.5" r="0.75" fill="#5a6eb0"/>
<circle cx="52.0" cy="104.5" r="0.75" fill="#5a6eb0"/>
<circle cx="53.5" cy="112.0" r="0.75" fill="#5a6eb0"/>
<circle cx="55.6" cy="119.0" r="0.75" fill="#5a6eb0"/>
<circle cx="54.0" cy="127.0" r="0.75" fill="#5a6eb0"/>
<circle cx="41.5" cy="131.5" r="0.75" fill="#5a6eb0"/>
<circle cx="47.6" cy="133.5" r="0.75" fill="#5a6eb0"/>
<circle cx="49.5" cy="136.5" r="0.75" fill="#5a6eb0"/>
<circle cx="37.0" cy="149.0" r="0.75" fill="#5a6eb0"/>
<circle cx="37.0" cy="176.0" r="0.75" fill="#5a6eb0"/>
<circle cx="49.0" cy="200.3" r="0.75" fill="#5a6eb0"/>
<circle cx="52.6" cy="223.0" r="0.75" fill="#5a6eb0"/>
<line x1="36.9" y1="149.0" x2="36.9" y2="176.0" stroke="#a9b1dc" stroke-width="1.60"/>
<path d="M69.0 71.2 C69.1 72.0 69.6 74.5 69.8 76.0 C70.0 77.5 69.8 79.2 70.3 80.5 C70.8 81.8 72.4 82.1 73.0 84.0 C73.6 85.9 73.9 89.8 73.8 92.0 C73.7 94.2 72.9 95.4 72.4 97.0 C71.9 98.6 70.9 99.7 70.9 101.5 C70.9 103.3 71.9 104.9 72.6 108.0 C73.3 111.1 74.1 116.0 75.0 120.0 C75.9 124.0 76.8 128.2 78.0 132.0 C79.2 135.8 81.0 139.5 82.0 143.0 C83.0 146.5 83.7 150.2 84.2 153.0 C84.8 155.8 85.0 157.9 85.3 160.0 C85.6 162.1 85.9 164.4 86.0 165.3" fill="none" stroke="#38c0ea" stroke-width="1.60"/>
<path d="M74.0 71.8 C74.0 72.5 74.2 74.5 74.3 76.0 C74.4 77.5 74.2 78.8 74.8 81.0 C75.4 83.2 77.2 86.0 78.0 89.0 C78.8 92.0 79.3 95.5 79.6 99.0 C79.9 102.5 79.6 106.5 80.0 110.0 C80.4 113.5 81.2 117.0 82.0 120.0 C82.8 123.0 84.0 125.3 85.0 128.0 C86.0 130.7 87.2 133.2 88.0 136.0 C88.8 138.8 89.2 142.2 89.6 145.0 C90.0 147.8 90.2 150.2 90.2 153.0 C90.2 155.8 90.0 159.0 89.6 162.0 C89.2 165.0 88.7 167.2 88.0 171.0 C87.3 174.8 86.0 180.5 85.2 185.0 C84.4 189.5 83.8 194.2 83.3 198.0 C82.8 201.8 82.4 204.0 82.3 208.0 C82.2 212.0 82.4 216.7 82.6 222.0 C82.8 227.3 83.1 233.8 83.2 240.0 C83.3 246.2 83.1 255.2 83.4 259.0 C83.7 262.8 84.2 261.8 85.0 263.0 C85.8 264.2 86.7 265.1 88.0 266.3 C89.3 267.6 91.3 268.7 93.0 270.5 C94.7 272.3 97.1 274.8 98.4 277.0 C99.7 279.2 100.2 280.8 100.6 284.0 C101.0 287.2 100.7 292.7 101.0 296.0 C101.3 299.3 101.8 301.4 102.6 304.0 C103.4 306.6 105.3 308.8 106.0 311.5 C106.7 314.2 106.6 317.0 107.0 320.0 C107.4 323.0 108.3 328.0 108.6 329.6" fill="none" stroke="#f0703a" stroke-width="1.60"/>
</g>
<g id="panel-c">
<rect x="162.0" y="71.3" width="3.3" height="4.9" fill="#fffaf7" stroke="#b27455" stroke-width="1.00"/>
<circle cx="163.0" cy="73.1" r="0.6" fill="#b04a28"/>
<circle cx="164.4" cy="74.4" r="0.6" fill="#b04a28"/>
<rect x="154.6" y="76.2" width="3.0" height="6.1" fill="#fffaf7" stroke="#b27455" stroke-width="1.00"/>
<circle cx="155.5" cy="78.3" r="0.6" fill="#b04a28"/>
<circle cx="156.8" cy="80.2" r="0.6" fill="#b04a28"/>
<rect x="144.5" y="82.4" width="5.3" height="4.9" fill="#fffaf7" stroke="#b27455" stroke-width="1.00"/>
<circle cx="146.1" cy="84.2" r="0.6" fill="#b04a28"/>
<circle cx="148.3" cy="85.5" r="0.6" fill="#b04a28"/>
<rect x="142.1" y="87.3" width="4.0" height="22.4" fill="#fffaf7" stroke="#b27455" stroke-width="1.00"/>
<circle cx="143.3" cy="89.6" r="0.6" fill="#b04a28"/>
<circle cx="145.0" cy="91.8" r="0.6" fill="#b04a28"/>
<circle cx="143.9" cy="94.1" r="0.6" fill="#b04a28"/>
<circle cx="143.1" cy="96.3" r="0.6" fill="#b04a28"/>
<circle cx="144.8" cy="98.5" r="0.6" fill="#b04a28"/>
<circle cx="143.3" cy="100.7" r="0.6" fill="#b04a28"/>
<circle cx="145.0" cy="102.9" r="0.6" fill="#b04a28"/>
<circle cx="143.9" cy="105.2" r="0.6" fill="#b04a28"/>
<circle cx="143.1" cy="107.4" r="0.6" fill="#b04a28"/>
<rect x="137.0" y="109.7" width="5.3" height="30.0" fill="#fffaf7" stroke="#b27455" stroke-width="1.00"/>
<circle cx="138.6" cy="112.0" r="0.6" fill="#b04a28"/>
<circle cx="140.8" cy="114.1" r="0.6" fill="#b04a28"/>
<circle cx="139.4" cy="116.2" r="0.6" fill="#b04a28"/>
<circle cx="138.3" cy="118.3" r="0.6" fill="#b04a28"/>
<circle cx="140.6" cy="120.5" r="0.6" fill="#b04a28"/>
<circle cx="138.6" cy="122.6" r="0.6" fill="#b04a28"/>
<circle cx="140.8" cy="124.7" r="0.6" fill="#b04a28"/>
<circle cx="139.4" cy="126.8" r="0.6" fill="#b04a28"/>
<circle cx="138.3" cy="128.9" r="0.6" fill="#b04a28"/>
<circle cx="140.6" cy="131.1" r="0.6" fill="#b04a28"/>
<circle cx="138.6" cy="133.2" r="0.6" fill="#b04a28"/>
<circle cx="140.8" cy="135.3" r="0.6" fill="#b04a28"/>
<circle cx="139.4" cy="137.4" r="0.6" fill="#b04a28"/>
<rect x="131.5" y="139.7" width="5.3" height="42.5" fill="#fffaf7" stroke="#b27455" stroke-width="1.00"/>
<circle cx="133.1" cy="142.0" r="0.6" fill="#b04a28"/>
<circle cx="135.3" cy="144.2" r="0.6" fill="#b04a28"/>
<circle cx="133.9" cy="146.5" r="0.6" fill="#b04a28"/>
<circle cx="132.8" cy="148.7" r="0.6" fill="#b04a28"/>
<circle cx="135.1" cy="150.9" r="0.6" fill="#b04a28"/>
<circle cx="133.1" cy="153.2" r="0.6" fill="#b04a28"/>
<circle cx="135.3" cy="155.4" r="0.6" fill="#b04a28"/>
<circle cx="133.9" cy="157.6" r="0.6" fill="#b04a28"/>
<circle cx="132.8" cy="159.8" r="0.6" fill="#b04a28"/>
<circle cx="135.1" cy="162.1" r="0.6" fill="#b04a28"/>
<circle cx="133.1" cy="164.3" r="0.6" fill="#b04a28"/>
<circle cx="135.3" cy="166.5" r="0.6" fill="#b04a28"/>
<circle cx="133.9" cy="168.7" r="0.6" fill="#b04a28"/>
<circle cx="132.8" cy="171.0" r="0.6" fill="#b04a28"/>
<circle cx="135.1" cy="173.2" r="0.6" fill="#b04a28"/>
<circle cx="133.1" cy="175.4" r="0.6" fill="#b04a28"/>
<circle cx="135.3" cy="177.7" r="0.6" fill="#b04a28"/>
<circle cx="133.9" cy="179.9" r="0.6" fill="#b04a28"/>
<path d="M173.4 71.3 L165.3 72.3 L172.7 73.7 L167.3 74.9 L171.9 76.6 L167.4 78.7 L175.2 80.3 L169.8 81.3 L175.5 83.0 L165.4 84.9 L175.3 86.3 L166.7 88.4 L174.7 89.9 L167.9 91.4 L173.1 92.6 L165.0 94.1 L170.2 95.2 L164.2 97.3 L171.3 98.6 L162.8 100.2 L168.2 101.5 L162.8 102.5 L169.8 104.1 L160.4 105.5 L168.8 106.5 L162.0 107.6 L165.6 109.8 L161.9 112.0 L166.4 114.1 L159.0 115.1 L166.6 116.2 L159.7 117.4 L165.8 119.2 L158.8 120.4 L164.0 122.4 L154.2 124.2 L160.5 126.2 L153.0 128.4 L157.8 129.9 L148.6 131.5 L150.0 132.5 L156.5 135.0 L151.0 136.5 L148.5 138.5 L146.3 141.0 L148.6 143.0 L152.0 145.4 L154.5 147.0 L156.2 149.5 L155.0 151.5 L155.6 153.0 L150.5 154.6 L158.0 155.4 L151.0 156.3 L160.0 156.9 L148.0 158.0 L161.5 159.6 L138.2 160.6 L146.0 161.3 L145.2 163.0 L146.3 165.0 L143.0 170.0 L145.6 172.0 L143.0 174.0 L146.0 176.2 L144.8 180.0 L147.2 182.2 L143.2 184.0 L142.0 187.0 L137.3 188.8 L140.5 193.2 L143.0 190.2" fill="none" stroke="#4059b3" stroke-width="0.70" stroke-linejoin="round"/>
<path d="M159.0 71.2 L157.4 74.0 L158.4 76.0 L156.6 78.0 L157.6 79.5 L155.6 81.0 L155.8 83.0 L152.4 85.0 L151.0 86.5 L148.0 87.6 L146.0 88.8 L143.0 89.0 L140.0 91.0 L139.5 92.4 L137.0 94.0 L140.6 94.8 L139.0 95.8 L143.0 96.4 L146.6 97.2 L147.6 99.0 L149.6 100.0 L148.4 101.0 L154.4 102.2 L149.0 103.0 L146.0 104.0 L144.0 105.8 L149.0 106.6 L151.0 107.2 L158.6 108.2 L150.0 109.4 L146.0 110.4 L144.6 113.0 L146.0 114.5 L147.4 116.5 L146.6 118.0 L148.4 119.5 L147.6 121.5 L149.6 123.4 L148.2 125.5 L149.0 127.8" fill="none" stroke="#7c3fb0" stroke-width="1.15" stroke-linejoin="round"/>
<path d="M160.8 71.2 C161.0 71.8 161.6 73.8 161.8 75.0 C162.0 76.2 162.3 77.4 162.0 78.5 C161.7 79.6 161.2 80.4 160.0 81.5 C158.8 82.6 156.6 83.9 155.0 85.0 C153.4 86.1 151.5 87.1 150.4 88.0 C149.3 88.9 148.8 88.5 148.3 90.5 C147.9 92.5 148.0 96.8 147.7 100.0 C147.4 103.2 147.0 107.5 146.6 110.0 C146.2 112.5 145.8 113.5 145.4 115.0 C145.0 116.5 144.2 117.3 144.3 119.0 C144.4 120.7 145.4 122.8 145.8 125.0 C146.2 127.2 146.8 129.8 146.5 132.0 C146.2 134.2 144.8 136.3 144.2 138.0 C143.6 139.7 143.3 140.0 143.0 142.0 C142.7 144.0 142.6 147.0 142.5 150.0 C142.4 153.0 142.2 156.7 142.2 160.0 C142.2 163.3 142.1 167.3 142.4 170.0 C142.7 172.7 143.9 174.2 144.0 176.0 C144.1 177.8 143.3 179.2 143.0 181.0 C142.7 182.8 141.8 185.4 142.0 187.0 C142.2 188.6 144.6 188.9 144.0 190.6 C143.4 192.3 139.6 194.0 138.6 197.2 C137.6 200.4 138.3 206.9 138.1 210.0 C137.9 213.1 137.5 214.0 137.6 216.0 C137.7 218.0 137.9 219.5 138.5 222.0 C139.1 224.5 140.8 228.7 141.0 231.0 C141.2 233.3 139.4 234.0 139.5 236.0 C139.6 238.0 141.5 241.0 141.5 243.0 C141.5 245.0 139.8 245.5 139.6 248.0 C139.4 250.5 140.5 254.3 140.5 258.0 C140.5 261.7 139.8 266.0 139.6 270.0 C139.3 274.0 139.1 280.0 139.0 282.0" fill="none" stroke="#111" stroke-width="1.05"/>
</g>
<g id="panel-d">
<line x1="196.5" y1="70.0" x2="196.5" y2="383.5" stroke="#777" stroke-width="0.70" stroke-dasharray="2.2 1.8"/>
<path d="M187.0 77.5 L196.6 83.4 L186.8 89.4 L196.5 94.5 L196.5 106.0 L196.5 112.5 L196.5 121.7 L196.5 126.5 L196.5 132.8 L196.5 140.0 L207.0 149.2 L196.5 155.5 L196.5 171.9 L207.0 179.7 L196.5 185.4 L196.5 198.0 L191.6 204.5 L191.6 213.7" fill="none" stroke="#222" stroke-width="0.70"/>
<path d="M191.6 267.8 L191.6 284.5 L186.3 293.6 L191.6 303.7 L187.0 327.0" fill="none" stroke="#222" stroke-width="0.70"/>
<rect x="184.5" y="75.0" width="5.0" height="5.0" fill="#fff" stroke="#333" stroke-width="0.80"/>
<rect x="184.9" y="75.4" width="2.1" height="4.2" fill="#f2a850" stroke="none" stroke-width="1.00"/>
<rect x="184.3" y="86.9" width="5.0" height="5.0" fill="#fff" stroke="#333" stroke-width="0.80"/>
<path d="M196.7 80.4 l1.7 3.0 l-1.7 3.0 l-1.7 -3.0 z" fill="#e8353a" stroke="#e8353a" stroke-width="0.5"/>
<rect x="194.2" y="92.2" width="4.6" height="4.6" fill="#dba23a" stroke="#333" stroke-width="0.80"/>
<rect x="195.2" y="104.6" width="2.6" height="2.8" fill="#999" stroke="#666" stroke-width="0.50"/>
<rect x="194.2" y="110.2" width="4.6" height="4.6" fill="#dba23a" stroke="#333" stroke-width="0.80"/>
<rect x="194.2" y="119.4" width="4.6" height="4.6" fill="#8c8c8e" stroke="#333" stroke-width="0.80"/>
<path d="M196.5 124.7 l1.2 1.9 l-1.2 1.9 l-1.2 -1.9 z" fill="#e8353a" stroke="#e8353a" stroke-width="0.5"/>
<rect x="194.2" y="130.5" width="4.6" height="4.6" fill="#8c8c8e" stroke="#333" stroke-width="0.80"/>
<path d="M196.5 137.7 l1.4 2.3 l-1.4 2.3 l-1.4 -2.3 z" fill="#e8353a" stroke="#e8353a" stroke-width="0.5"/>
<path d="M205.2 147.4 l0 3.6 l3.6 -3.6 l0 3.6 z" fill="#1f8a4c" stroke="#17663a" stroke-width="0.5"/>
<path d="M196.5 153.1 l1.4 2.4 l-1.4 2.4 l-1.4 -2.4 z" fill="#fff" stroke="#e8353a" stroke-width="0.5"/>
<path d="M196.5 169.6 l1.4 2.3 l-1.4 2.3 l-1.4 -2.3 z" fill="#e8353a" stroke="#e8353a" stroke-width="0.5"/>
<path d="M205.2 177.9 l0 3.6 l3.6 -3.6 l0 3.6 z" fill="#1f8a4c" stroke="#17663a" stroke-width="0.5"/>
<path d="M196.5 183.0 l1.4 2.4 l-1.4 2.4 l-1.4 -2.4 z" fill="#e8353a" stroke="#e8353a" stroke-width="0.5"/>
<path d="M196.6 195.6 l1.4 2.4 l-1.4 2.4 l-1.4 -2.4 z" fill="#fff" stroke="#e8353a" stroke-width="0.5"/>
<rect x="189.3" y="202.2" width="4.6" height="4.6" fill="#f28a1e" stroke="#333" stroke-width="0.80"/>
<rect x="189.3" y="211.4" width="4.6" height="4.6" fill="#f28a1e" stroke="#333" stroke-width="0.80"/>
<rect x="189.3" y="265.5" width="4.6" height="4.6" fill="#f28a1e" stroke="#333" stroke-width="0.80"/>
<rect x="189.3" y="282.2" width="4.6" height="4.6" fill="#f28a1e" stroke="#333" stroke-width="0.80"/>
<rect x="189.3" y="301.4" width="4.6" height="4.6" fill="#f28a1e" stroke="#333" stroke-width="0.80"/>
<path d="M184.1 296 l4.4 0 l-2.2 -4.8 z" fill="#e3e02a" stroke="#444" stroke-width="0.6"/>
<rect x="184.6" y="324.6" width="4.8" height="4.8" fill="#fff" stroke="#333" stroke-width="0.80"/>
<line x1="185.0" y1="329.0" x2="189.0" y2="325.0" stroke="#333" stroke-width="0.60"/>
</g>
<g id="panel-e">
<path d="M216.7 244.9 L221.1 244.9 L221.5 245.6 L221.1 246.3 L221.3 247.0 L221.2 247.7 L220.1 248.4 L219.7 249.1 L220.6 249.8 L219.4 250.5 L219.0 251.2 L219.8 251.9 L218.7 252.6 L218.9 253.3 L218.0 254.0 L218.2 254.7 L217.4 255.4 L218.1 256.1 L218.4 256.8 L217.9 257.5 L218.2 258.2 L218.0 258.9 L217.0 259.6 L218.1 260.3 L217.8 261.0 L217.3 261.7 L216.9 262.4 L218.2 263.1 L217.6 263.8 L218.0 264.5 L218.3 265.2 L218.1 265.9 L218.4 266.6 L217.6 267.3 L218.3 268.0 L222.1 268.7 L227.5 269.4 L233.3 270.1 L236.0 270.8 L237.4 271.5 L238.9 272.2 L239.5 272.9 L236.6 273.6 L234.8 274.3 L232.7 275.0 L231.6 275.7 L230.0 276.4 L229.2 277.1 L228.9 277.8 L228.2 278.5 L216.7 278.6Z" fill="#e6c827" stroke="none" stroke-width="0.00"/>
<path d="M250.7 244.9 L237.6 244.9 L239.6 245.6 L243.1 246.3 L246.5 247.0 L245.7 247.7 L242.4 248.4 L239.9 249.1 L240.6 249.8 L241.5 250.5 L242.7 251.2 L243.4 251.9 L243.7 252.6 L243.0 253.3 L243.8 254.0 L243.4 254.7 L242.9 255.4 L242.5 256.1 L243.6 256.8 L243.7 257.5 L242.3 258.2 L243.0 258.9 L242.1 259.6 L240.7 260.3 L239.0 261.0 L237.7 261.7 L235.5 262.4 L232.0 263.1 L232.7 263.8 L232.8 264.5 L234.6 265.2 L235.3 265.9 L237.4 266.6 L240.2 267.3 L242.2 268.0 L244.8 268.7 L245.4 269.4 L246.5 270.1 L247.8 270.8 L247.5 271.5 L248.3 272.2 L248.6 272.9 L248.3 273.6 L247.1 274.3 L246.4 275.0 L247.8 275.7 L247.3 276.4 L248.5 277.1 L248.7 277.8 L248.3 278.5 L250.7 278.6Z" fill="#57b947" stroke="none" stroke-width="0.00"/>
<path d="M220.9 245.3 L224.1 245.9 L218.5 246.5 L224.4 247.3 L218.4 247.8 L222.4 248.6 L221.2 249.5 L229.2 250.3 L218.0 251.3 L230.7 252.0 L222.3 252.6 L226.7 253.3 L219.5 254.0 L223.6 254.8 L222.4 255.7 L228.8 256.6 L221.9 257.5 L227.2 258.0 L219.3 258.6 L222.8 259.5 L220.0 260.3 L228.0 261.0 L219.2 261.6 L225.9 262.4 L221.3 263.0 L226.2 263.6 L221.1 264.7 L226.1 265.6 L219.0 266.6 L222.3 267.3 L222.1 267.8 L230.2 268.4 L233.2 269.2 L241.4 269.7 L230.9 270.2 L239.3 270.8 L229.5 271.5 L239.5 272.1 L227.3 272.6 L233.8 273.0 L231.2 273.8 L241.2 274.6 L233.8 275.2 L243.1 275.9 L233.2 276.4 L248.0 276.9 L228.1 277.4 L233.1 278.2 L230.5 278.7 L236.4 279.5" fill="none" stroke="#7540ae" stroke-width="0.65" stroke-linejoin="round"/>
</g>
<g id="panel-f">
<rect x="282.2" y="70.0" width="10.1" height="8.2" fill="#71757a" stroke="none" stroke-width="1.00"/>
<rect x="279.2" y="78.0" width="9.6" height="18.1" fill="#71757a" stroke="none" stroke-width="1.00"/>
<rect x="274.7" y="95.9" width="6.4" height="14.0" fill="#71757a" stroke="none" stroke-width="1.00"/>
<rect x="273.1" y="109.8" width="6.1" height="11.8" fill="#71757a" stroke="none" stroke-width="1.00"/>
<rect x="275.8" y="121.4" width="6.6" height="4.7" fill="#71757a" stroke="none" stroke-width="1.00"/>
<path d="M282.4 125.7 L292.6 125.7 L293.4 140.0 L291.0 150.0 L288.8 159.0 L280.3 159.0 L281.0 150.0 L283.4 140.0 L282.6 133.0Z" fill="#71757a" stroke="none" stroke-width="0.00"/>
<path d="M278.4 158.6 L286.7 158.6 L287.8 166.0 L287.2 187.1 L278.7 187.1 L278.5 166.0Z" fill="#71757a" stroke="none" stroke-width="0.00"/>
<path d="M277.1 186.8 L285.4 186.8 L285.0 207.5 L277.0 207.5Z" fill="#71757a" stroke="none" stroke-width="0.00"/>
<path d="M275.5 207.2 L283.2 207.2 L281.6 232.5 L275.2 232.5Z" fill="#71757a" stroke="none" stroke-width="0.00"/>
<rect x="269.1" y="232.5" width="4.5" height="13.6" fill="#71757a" stroke="none" stroke-width="1.00"/>
<rect x="267.5" y="246.0" width="3.2" height="16.4" fill="#71757a" stroke="none" stroke-width="1.00"/>
<rect x="266.7" y="262.3" width="2.9" height="27.3" fill="#71757a" stroke="none" stroke-width="1.00"/>
<rect x="264.4" y="289.5" width="1.6" height="25.4" fill="#7f8387" stroke="none" stroke-width="1.00"/>
<rect x="263.7" y="314.8" width="1.5" height="24.2" fill="#9a9da0" stroke="none" stroke-width="1.00"/>
<rect x="263.2" y="338.8" width="2.0" height="48.6" fill="#8d9093" stroke="none" stroke-width="1.00"/>
</g>
<g id="panel-g">
<path d="M339.0 74.2 C338.4 76.8 336.8 84.9 335.5 90.0 C334.2 95.1 332.4 100.0 331.2 105.0 C329.9 110.0 328.9 115.8 328.0 120.0 C327.1 124.2 326.5 125.0 325.7 130.0 C324.9 135.0 323.8 144.2 323.0 150.0 C322.2 155.8 321.7 160.0 321.0 165.0 C320.3 170.0 319.6 175.0 319.0 180.0 C318.4 185.0 317.9 190.3 317.5 195.0 C317.1 199.7 316.7 203.8 316.3 208.0 C315.9 212.2 315.6 213.8 315.0 220.0 C314.4 226.2 313.6 237.5 313.0 245.0 C312.4 252.5 312.0 258.8 311.6 265.0 C311.2 271.2 311.1 276.2 310.8 282.0 C310.5 287.8 310.3 292.8 310.0 300.0 C309.7 307.2 309.2 318.3 309.0 325.0 C308.8 331.7 308.6 337.5 308.5 340.0" fill="none" stroke="#c98f6b" stroke-width="1.00" stroke-dasharray="1 1.1"/>
<path d="M357.9 76.7 C357.4 79.8 356.0 89.5 355.0 95.0 C354.0 100.5 353.0 105.0 352.0 110.0 C351.0 115.0 349.9 120.0 349.0 125.0 C348.1 130.0 347.4 135.8 346.6 140.0 C345.8 144.2 345.1 147.0 344.0 150.0 C342.9 153.0 341.3 155.5 340.0 158.0 C338.7 160.5 337.1 162.2 336.0 165.0 C334.9 167.8 334.3 171.7 333.6 175.0 C332.9 178.3 332.4 181.2 332.0 185.0 C331.6 188.8 331.3 193.8 331.0 198.0 C330.7 202.2 330.6 205.5 330.4 210.0 C330.2 214.5 329.8 218.3 329.6 225.0 C329.4 231.7 329.2 240.8 329.0 250.0 C328.8 259.2 328.7 271.0 328.5 280.0 C328.3 289.0 328.1 300.0 328.0 304.0" fill="none" stroke="#5d8a4e" stroke-width="1.20" stroke-dasharray="1.1 1.1"/>
<path d="M366.5 74 C366.3 90 365.6 110 364.6 130 C364 142 363.2 150 362.5 156 L331.6 181 C330.6 190 329.8 198 328 215 C326 232 325 245 324 260 C322.6 280 320.8 300 318.5 325 C317.5 338 315 350 307.2 367.5" fill="none" stroke="#3fc0ee" stroke-width="1.25" stroke-dasharray="1.1 1.1"/>
<path d="M356.8 84.0 C356.5 85.8 355.6 91.5 355.0 95.0 C354.4 98.5 354.1 100.8 353.5 105.0 C352.9 109.2 352.1 115.3 351.5 120.0 C350.9 124.7 350.2 128.8 349.6 133.0 C349.0 137.2 348.5 139.7 348.0 145.0 C347.5 150.3 346.9 159.2 346.6 165.0 C346.3 170.8 346.3 175.5 346.0 180.0 C345.7 184.5 345.5 189.1 345.0 192.0 C344.5 194.9 344.3 195.2 343.0 197.2 C341.7 199.2 338.7 202.3 337.0 204.0 C335.3 205.7 334.1 205.7 332.8 207.4 C331.5 209.1 330.2 211.1 329.2 214.0 C328.2 216.9 327.2 220.7 326.6 225.0 C326.0 229.3 325.9 235.0 325.6 240.0 C325.3 245.0 325.2 251.3 325.0 255.0 C324.8 258.7 324.6 260.8 324.5 262.0" fill="none" stroke="#6a3fa8" stroke-width="1.15" stroke-dasharray="2.3 2.1"/>
<path d="M359.6 73.5 C359.3 77.9 358.5 92.2 358.0 100.0 C357.5 107.8 356.9 114.7 356.5 120.0 C356.1 125.3 355.9 126.2 355.6 132.0 C355.3 137.8 355.0 147.0 354.5 155.0 C354.0 163.0 353.1 172.5 352.5 180.0 C351.9 187.5 351.2 193.3 350.6 200.0 C350.0 206.7 349.6 213.3 349.0 220.0 C348.4 226.7 347.7 233.7 347.0 240.0 C346.3 246.3 345.8 253.7 345.0 258.0 C344.2 262.3 343.3 263.3 342.0 266.0 C340.7 268.7 338.4 271.7 337.0 274.0 C335.6 276.3 335.0 277.7 333.5 280.0 C332.0 282.3 329.9 285.5 328.0 288.0 C326.1 290.5 323.7 292.5 322.0 295.0 C320.3 297.5 319.3 300.3 318.0 303.0 C316.7 305.7 315.0 307.8 314.0 311.0 C313.0 314.2 312.7 317.5 312.0 322.0 C311.3 326.5 310.7 333.0 310.0 338.0 C309.3 343.0 308.6 347.8 308.0 352.0 C307.4 356.2 306.8 361.6 306.5 363.5" fill="none" stroke="#8c2148" stroke-width="1.20"/>
<path d="M362.8 73.5 C362.7 77.9 362.3 92.2 362.0 100.0 C361.7 107.8 361.2 113.3 361.0 120.0 C360.8 126.7 360.7 135.0 360.5 140.0 C360.3 145.0 360.3 144.2 360.0 150.0 C359.7 155.8 359.0 167.5 358.5 175.0 C358.0 182.5 357.4 189.2 357.0 195.0 C356.6 200.8 356.4 204.2 356.2 210.0 C355.9 215.8 355.7 221.7 355.5 230.0 C355.3 238.3 355.1 251.7 355.0 260.0 C354.9 268.3 354.9 273.3 354.9 280.0 C354.9 286.7 354.9 293.3 354.8 300.0 C354.7 306.7 354.6 314.5 354.5 320.0 C354.4 325.5 354.2 329.7 354.0 333.0 C353.8 336.3 354.0 336.3 353.5 340.0 C353.0 343.7 352.0 350.0 351.0 355.0 C350.0 360.0 348.5 365.8 347.5 370.0 C346.5 374.2 345.7 376.9 345.0 380.0 C344.3 383.1 343.6 387.1 343.3 388.5" fill="none" stroke="#111" stroke-width="1.10"/>
</g>
<g id="panel-h">
<path d="M379.9 72.5 L379.9 84.0 L381.6 84.0 L381.6 100.6 L380.2 100.6 L380.2 124.6 L382.0 124.6 L382.0 152.3 L383.0 152.3 L383.0 172.2 L385.6 172.2 L385.6 198.9 L391.6 198.9 L391.6 263.0 L388.7 263.0 L388.7 281.3 L411.4 281.3 L411.4 300.0 L405.0 300.0 L405.0 324.4 L439.3 324.4 L439.3 342.5 L432.0 342.5 L432.0 366.5" fill="none" stroke="#b48845" stroke-width="1.30" stroke-linejoin="miter"/>
<path d="M378.8 73.0 L378.8 125.0 L383.5 125.0 L383.5 172.2 L390.9 172.2 L390.9 292.0 L417.5 292.0 L417.5 364.6" fill="none" stroke="#3c5082" stroke-width="1.20" stroke-dasharray="9 5"/>
<path d="M386.3 77.0 C386.3 80.8 386.3 92.3 386.3 100.0 C386.3 107.7 386.6 117.3 386.3 123.0 C386.0 128.7 384.7 130.8 384.3 134.0 C383.9 137.2 384.1 139.0 384.2 142.0 C384.2 145.0 384.4 147.7 384.6 152.0 C384.8 156.3 385.0 164.4 385.4 168.0 C385.8 171.6 386.2 171.3 387.0 173.4 C387.8 175.5 389.8 177.3 390.4 180.4 C391.0 183.5 390.4 187.9 390.4 192.0 C390.4 196.1 390.7 199.5 390.6 205.0 C390.5 210.5 390.0 218.3 390.0 225.0 C390.0 231.7 390.4 238.8 390.4 245.0 C390.4 251.2 390.1 257.0 390.2 262.0 C390.2 267.0 390.2 272.0 390.7 275.0 C391.2 278.0 391.6 278.5 393.0 280.0 C394.4 281.5 396.7 282.8 399.0 284.0 C401.3 285.2 405.0 285.9 406.6 287.0 C408.2 288.1 408.3 288.3 408.6 290.5 C408.9 292.7 408.5 296.8 408.5 300.0 C408.5 303.2 408.4 307.5 408.6 310.0 C408.8 312.5 409.3 313.6 409.6 315.0 C409.9 316.4 409.8 317.3 410.5 318.3 C411.2 319.3 412.8 319.4 413.6 321.0 C414.4 322.6 415.0 325.2 415.5 328.0 C416.0 330.8 416.3 334.7 416.5 338.0 C416.7 341.3 416.7 345.5 416.5 348.0 C416.3 350.5 415.5 351.6 415.5 353.0 C415.5 354.4 414.8 355.4 416.4 356.2 C418.0 357.0 421.8 357.3 425.0 358.0 C428.2 358.7 433.8 360.1 435.5 360.5" fill="none" stroke="#3aa14e" stroke-width="1.10"/>
</g>
<g id="panel-ij">
<path d="M447.8 250.5 C448.3 250.9 449.3 252.4 451.0 253.0 C452.7 253.6 457.8 253.5 458.2 254.2 C458.6 254.9 454.8 256.1 453.4 257.4 C451.9 258.7 450.4 260.5 449.5 262.0 C448.6 263.5 448.1 265.8 447.8 266.5" fill="#82cfb4" stroke="none" stroke-width="0.00"/>
<path d="M447.8 267.6 C449.0 267.7 452.8 267.6 455.0 268.0 C457.2 268.4 459.7 268.3 460.8 270.0 C461.9 271.7 461.9 275.0 461.6 278.0 C461.3 281.0 460.1 285.2 459.0 288.0 C457.9 290.8 456.7 293.0 455.0 295.0 C453.3 297.0 450.2 298.9 449.0 300.0 C447.8 301.1 448.0 301.2 447.8 301.5" fill="#82cfb4" stroke="none" stroke-width="0.00"/>
<path d="M447.8 327.0 C448.1 328.2 448.4 332.8 449.6 334.5 C450.8 336.2 452.8 336.2 455.0 337.0 C457.2 337.8 460.9 337.9 463.0 339.0 C465.1 340.1 466.9 342.3 467.8 343.6 C468.7 344.9 468.8 345.8 468.5 347.0 C468.2 348.2 467.8 349.8 466.0 351.0 C464.2 352.2 460.3 353.2 458.0 354.2 C455.7 355.2 453.7 356.1 452.0 357.0 C450.3 357.9 448.5 359.2 447.8 359.6" fill="#82cfb4" stroke="none" stroke-width="0.00"/>
<line x1="447.4" y1="240.0" x2="447.4" y2="370.0" stroke="#1a1a1a" stroke-width="1.30"/>
<text stroke="#3a3a48" stroke-width="0.22" x="449.6" y="249.9" font-size="7.40" textLength="10.5" lengthAdjust="spacingAndGlyphs" fill="#3a3a48">3rd</text>
<text stroke="#3a3a48" stroke-width="0.22" x="447.7" y="280.5" font-size="7.40" textLength="12.0" lengthAdjust="spacingAndGlyphs" fill="#3a3a48">2nd</text>
<text stroke="#3a3a48" stroke-width="0.22" x="451.6" y="347.7" font-size="7.40" textLength="9.2" lengthAdjust="spacingAndGlyphs" fill="#3a3a48">1st</text>
<line x1="453.0" y1="256.0" x2="453.0" y2="265.0" stroke="#111" stroke-width="1.90"/>
<line x1="472.1" y1="277.5" x2="472.1" y2="298.0" stroke="#111" stroke-width="1.90"/>
<line x1="476.5" y1="332.0" x2="476.5" y2="352.3" stroke="#111" stroke-width="1.90"/>
<path d="M457.0 263.0 C457.5 263.7 458.8 265.8 460.0 267.0 C461.2 268.2 462.3 269.2 464.0 270.0 C465.7 270.8 468.5 270.9 470.0 271.6 C471.5 272.3 472.2 272.0 473.0 274.2 C473.8 276.4 474.1 280.7 474.5 285.0 C474.9 289.3 475.2 295.0 475.5 300.0 C475.8 305.0 475.8 309.8 476.0 315.0 C476.2 320.2 476.8 328.3 477.0 331.0" fill="none" stroke="#4a8fd8" stroke-width="1.50" stroke-dasharray="6.5 3"/>
</g>
<g id="panel-k">
<path d="M502.0 71.6 L489.8 72.0 L502.5 72.4 L489.7 72.9 L503.8 73.3 L492.4 73.6 L504.3 74.0 L490.3 74.3 L503.6 74.7 L490.0 75.0 L502.2 75.4 L496.2 75.9 L501.9 76.2 L494.8 76.5 L501.6 76.9 L496.9 77.4 L502.7 77.9 L496.9 78.3 L502.6 78.7 L496.3 79.0 L504.2 79.3 L496.5 79.7 L504.6 80.1 L497.7 80.6 L503.7 81.0 L497.6 81.4 L505.6 81.8 L500.1 82.3 L503.7 82.6 L499.6 83.0 L503.5 83.4 L500.3 83.7 L504.5 84.2 L500.9 84.6 L504.5 85.1 L501.2 85.5 L504.6 85.9 L501.6 86.2 L505.0 86.7 L501.8 87.1 L504.8 87.5 L501.4 87.9 L505.7 88.3 L501.4 88.7 L505.6 89.2 L501.5 89.7 L506.4 90.1 L502.4 90.5 L506.5 90.9 L502.9 91.2 L506.4 91.7 L502.0 92.1 L505.7 92.5 L502.8 93.1 L505.5 93.6 L502.2 94.2 L506.9 95.0 L503.5 95.6 L506.7 96.4 L504.1 97.1 L520.0 97.2 L504.0 97.5 L507.5 97.6 L503.0 98.3 L507.3 99.0 L503.5 99.6 L507.8 100.2 L503.9 100.7 L508.2 101.2 L505.3 102.0 L508.3 102.6 L504.5 103.4 L508.1 103.9 L504.1 104.7 L507.7 105.2 L505.7 105.7 L507.9 106.3 L504.8 107.1 L508.7 107.6 L505.2 108.1 L508.2 108.6 L505.6 109.2 L509.0 109.9 L505.1 110.3 L509.5 111.1 L506.5 111.8 L508.4 112.4 L506.3 113.1 L508.9 113.8 L506.2 114.5 L509.3 115.0 L505.3 115.5 L509.6 116.1 L505.4 116.7 L509.8 117.2 L505.8 117.9 L509.5 118.6 L506.3 119.3 L509.2 120.0 L505.8 120.7 L509.9 121.3 L507.5 122.1 L509.7 122.6 L506.6 123.3 L510.9 123.9 L507.0 124.4 L510.9 125.0 L507.6 125.6 L510.3 126.1 L508.1 126.7 L511.8 127.4 L508.0 128.1 L511.3 128.6 L507.9 129.2 L511.1 130.0 L508.4 130.6 L512.7 131.4 L508.4 132.1 L512.6 132.8 L508.6 133.5 L512.2 134.2 L509.4 135.0 L513.2 135.7 L509.7 136.5 L513.1 136.9 L511.1 137.5 L514.0 138.0 L511.7 138.4 L514.9 139.2 L512.8 139.8 L515.5 140.6 L512.9 141.1 L515.9 141.8 L512.4 142.4 L515.6 142.9 L514.1 143.7 L516.1 144.4 L514.4 145.0 L517.3 145.6 L513.9 146.2 L516.0 146.9 L513.7 147.4 L515.7 147.9 L514.0 148.7 L516.5 149.5 L513.7 150.1 L514.8 150.8 L512.3 151.4 L514.5 152.0 L512.9 152.6 L514.8 153.2 L512.1 153.9 L514.9 154.4 L511.6 155.2 L513.8 155.6 L511.4 156.2 L514.6 156.8 L510.7 157.5 L513.2 158.3 L511.8 158.9 L514.2 159.7 L511.5 160.4 L514.1 160.9 L510.7 161.5 L514.0 162.1 L511.1 162.7 L513.1 163.3 L510.1 164.0 L512.7 164.4 L510.3 165.1 L512.8 165.6 L511.1 166.0 L513.4 166.7 L510.8 167.3 L513.6 167.8 L510.3 168.5 L513.2 169.2 L510.7 169.8 L512.4 170.5 L510.4 171.0 L513.1 171.6 L510.0 172.1 L512.6 172.8 L510.0 173.5 L513.5 174.3 L510.2 174.8 L513.5 175.6 L510.1 176.3 L514.2 176.9 L510.5 177.7 L513.5 178.2 L510.9 178.8 L514.1 179.5 L510.6 180.0 L514.6 180.7 L510.6 181.2 L514.5 181.9 L510.8 182.6 L513.5 183.1 L512.0 183.7 L514.7 184.4 L512.1 184.9 L514.2 185.4 L512.4 186.1 L514.0 186.7 L511.2 187.2 L515.2 187.9 L512.6 188.5 L515.3 189.0 L513.2 189.7 L517.5 190.4 L514.9 191.0 L517.6 191.5 L515.0 192.1 L517.2 192.7 L515.0 193.4 L517.8 194.2 L513.8 194.9 L516.8 195.4 L513.2 195.9 L515.0 196.5 L510.9 197.3 L511.8 197.9 L506.5 198.6 L508.7 199.2 L505.4 200.2 L508.0 201.0 L505.3 201.9 L509.0 202.8 L505.9 203.7 L509.2 204.5 L505.4 205.4 L509.5 206.1 L506.9 207.1 L509.5 207.8 L506.0 208.5 L509.8 209.2 L507.2 210.0 L509.7 210.7 L507.3 211.6 L509.6 212.5 L507.2 213.4 L509.4 214.1 L506.8 214.7 L509.5 215.5 L507.0 216.5 L510.6 217.1 L507.5 218.0 L511.0 218.8 L507.3 219.5 L510.3 220.4 L507.2 221.2 L510.4 222.1 L508.0 222.9 L509.8 223.9 L507.7 224.8 L510.7 225.4 L508.3 226.3 L510.1 227.1 L508.0 228.1 L510.0 228.8 L507.8 229.5 L510.2 230.1 L507.2 231.1 L509.6 231.8 L506.5 232.4 L506.0 233.4 L504.4 233.8 L506.5 232.2 L509.9 234.3 L513.3 234.9 L513.3 235.8 L514.7 236.5 L513.1 237.4 L514.5 238.3 L513.6 239.1 L515.1 240.1 L514.2 241.0 L515.9 241.9 L513.9 242.8 L516.2 243.5 L513.7 244.1 L516.3 245.1 L514.8 245.9 L516.5 246.7 L514.9 247.6 L516.2 248.5 L515.4 249.3 L517.1 250.0 L515.7 250.9 L516.8 251.7 L515.7 252.6 L517.4 253.3 L516.1 254.3 L518.0 255.2 L516.3 256.0 L517.9 256.8 L516.9 257.6 L518.2 258.3 L517.1 259.3 L518.4 260.0 L516.9 260.7 L519.3 261.5 L517.4 262.2 L519.7 263.0 L518.0 263.8 L519.9 264.5 L518.1 265.5 L519.9 266.3 L518.3 267.3 L520.6 268.0 L518.8 269.0 L521.2 270.0 L518.7 270.7 L520.9 271.4 L519.8 272.5 L521.4 273.3 L519.9 274.0 L521.6 274.9 L519.6 275.9 L522.1 276.9 L519.7 277.8 L522.2 278.7 L519.9 279.5 L522.1 280.4 L520.7 281.3 L522.0 281.9 L520.9 282.6 L522.1 283.2 L520.9 284.2 L521.8 285.1 L521.0 285.9 L523.0 286.7 L521.5 287.5 L523.0 288.4 L521.8 289.2 L524.5 290.2 L522.5 290.9 L524.8 291.6 L523.6 292.6 L525.7 293.3 L523.7 294.1 L525.7 295.1 L524.9 296.0 L526.0 296.8 L525.1 297.5 L527.0 298.1 L525.1 298.8 L527.5 299.7 L525.6 300.7 L527.9 301.3 L525.7 302.0 L527.8 302.7 L526.6 303.4 L528.8 304.4 L526.8 305.3 L528.7 306.0 L527.4 306.8 L529.8 307.7 L527.2 308.4 L529.6 309.4 L527.8 310.3 L530.1 311.0 L528.1 312.0 L530.0 313.0 L528.9 314.0 L530.5 315.0 L529.6 315.8 L531.3 316.8 L529.7 317.4 L531.4 318.1 L530.2 318.9 L532.0 320.0 L529.9 320.8 L531.9 321.5 L530.1 322.3 L531.3 323.3 L529.4 324.0 L530.8 324.7 L529.7 325.7 L530.7 326.5 L529.1 327.2 L530.1 328.0 L529.1 328.9 L529.9 329.5 L528.5 330.2 L530.2 331.0 L528.0 331.9 L529.6 332.8 L527.4 333.5 L529.1 334.5 L527.0 335.4 L528.4 336.4 L526.2 337.3 L528.6 338.2 L526.0 338.8 L528.0 339.5 L532.5 339.6 L525.7 340.3 L527.0 341.0 L525.0 342.0 L526.2 342.9 L524.1 343.6 L526.1 344.3 L524.1 345.2 L526.0 346.1 L523.9 347.0 L525.0 347.8 L523.0 348.7 L524.9 349.5 L523.3 350.3 L524.2 351.0 L522.2 351.7 L524.3 352.7 L521.6 353.6 L523.5 354.4 L522.0 355.4 L523.2 356.2 L521.8 357.0 L523.6 357.6 L522.1 358.6 L523.5 359.3 L522.3 360.2 L523.5 361.2 L521.9 362.1 L523.6 363.0 L522.2 364.0 L524.7 364.8 L523.2 365.7 L525.0 366.5 L523.6 367.3 L524.7 367.9 L523.3 368.8 L525.2 369.6 L523.7 370.6 L524.8 371.5 L523.5 372.4 L524.6 373.0 L523.1 373.7 L524.5 374.6 L522.6 375.5 L524.4 376.2 L522.1 377.0 L523.9 378.0 L522.2 378.7 L523.4 379.5 L521.8 380.2 L523.6 381.1 L521.0 382.0 L522.8 383.0 L521.9 383.9 L523.7 384.8 L522.1 385.5 L524.4 386.3 L522.4 387.1 L520.5 388.2 L525.0 388.2" fill="none" stroke="#0a0a0a" stroke-width="0.80" stroke-linejoin="round"/>
<path d="M490.5 71.3 L504.0 71.3 L503.2 75.0 L503.8 80.0 L505.0 85.0 L506.0 90.0 L506.2 96.0 L503.6 96.0 L502.2 90.0 L500.3 85.0 L497.0 80.0 L494.0 76.5 L491.0 74.0Z" fill="#0a0a0a" stroke="none" stroke-width="0.00"/>
<path d="M496.5 71.5 C496.8 72.1 497.3 73.6 498.0 75.0 C498.7 76.4 500.0 78.3 500.8 80.0 C501.6 81.7 502.5 83.3 503.0 85.0 C503.5 86.7 503.7 88.0 504.0 90.0 C504.3 92.0 504.7 95.3 505.0 97.0 C505.3 98.7 505.6 97.8 506.0 100.0 C506.4 102.2 506.8 106.7 507.2 110.0 C507.6 113.3 507.7 116.7 508.2 120.0 C508.7 123.3 509.5 127.5 510.0 130.0 C510.5 132.5 510.4 133.3 511.0 135.0 C511.6 136.7 512.9 138.3 513.6 140.0 C514.3 141.7 515.3 143.3 515.4 145.0 C515.5 146.7 514.8 148.3 514.4 150.0 C514.0 151.7 513.3 153.3 513.0 155.0 C512.7 156.7 512.7 157.5 512.4 160.0 C512.1 162.5 511.4 166.7 511.4 170.0 C511.4 173.3 512.3 177.3 512.6 180.0 C512.9 182.7 512.9 184.6 513.0 186.0 C513.1 187.4 512.9 187.8 513.4 188.5 C513.9 189.2 515.5 189.8 516.0 190.5 C516.5 191.2 516.7 192.2 516.6 193.0 C516.5 193.8 516.4 194.8 515.6 195.5 C514.8 196.2 512.6 197.0 512.0 197.3" fill="none" stroke="#0a0a0a" stroke-width="0.60"/>
<path d="M513.4 187.5 C514.0 188.0 516.1 189.6 516.8 190.5 C517.5 191.4 517.5 192.1 517.4 193.0 C517.3 193.9 517.0 195.1 516.2 195.8 C515.4 196.5 513.2 197.1 512.6 197.3" fill="none" stroke="#0a0a0a" stroke-width="1.80"/>
<line x1="536.0" y1="72.0" x2="536.0" y2="89.2" stroke="#0a0a0a" stroke-width="2.00"/>
<line x1="536.0" y1="89.8" x2="536.0" y2="111.0" stroke="#0a0a0a" stroke-width="2.50" stroke-dasharray="0.95 0.6"/>
<line x1="550.3" y1="72.0" x2="550.3" y2="130.0" stroke="#0a0a0a" stroke-width="2.00"/>
<line x1="550.3" y1="130.6" x2="550.3" y2="199.0" stroke="#0a0a0a" stroke-width="2.50" stroke-dasharray="0.95 0.6"/>
<line x1="550.3" y1="201.0" x2="550.3" y2="234.0" stroke="#0a0a0a" stroke-width="2.00"/>
<line x1="550.3" y1="234.5" x2="550.3" y2="248.0" stroke="#0a0a0a" stroke-width="2.50" stroke-dasharray="0.95 0.6"/>
<text stroke="#231f20" stroke-width="0.22" transform="translate(540.1 39.9) rotate(90)" font-size="8.50" textLength="107.0" lengthAdjust="spacingAndGlyphs">Northern hemisphere ice sheets</text>
<text stroke="#231f20" stroke-width="0.22" transform="translate(555.6 147.0) rotate(90)" font-size="8.50" textLength="64.0" lengthAdjust="spacingAndGlyphs">Antarctic ice sheet</text>
<line x1="520.8" y1="143.0" x2="520.8" y2="151.6" stroke="#c8956a" stroke-width="1.50"/>
<text stroke="#3a3a48" stroke-width="0.22" x="517.5" y="160.7" font-size="8.00" textLength="24.5" lengthAdjust="spacingAndGlyphs" fill="#3a3a48">MMCO</text>
<text stroke="#3a3a48" stroke-width="0.22" x="521.0" y="194.7" font-size="8.00" textLength="16.0" lengthAdjust="spacingAndGlyphs" fill="#3a3a48">LOW</text>
<text stroke="#3a3a48" stroke-width="0.22" x="510.0" y="234.3" font-size="8.00" textLength="38.0" lengthAdjust="spacingAndGlyphs" fill="#3a3a48">Oi-1 glacial</text>
<line x1="535.1" y1="318.5" x2="535.1" y2="328.0" stroke="#c8956a" stroke-width="1.30"/>
<text stroke="#3a3a48" stroke-width="0.22" x="538.5" y="324.7" font-size="8.00" textLength="19.5" lengthAdjust="spacingAndGlyphs" fill="#3a3a48">EECO</text>
<line x1="527.0" y1="376.5" x2="534.2" y2="376.5" stroke="#3c4a55" stroke-width="0.90"/>
<path d="M536.7 376.5 l-4 -1.7 v3.4z" fill="#3c4a55"/>
<text stroke="#3a3a48" stroke-width="0.22" x="539.0" y="379.2" font-size="8.00" textLength="19.5" lengthAdjust="spacingAndGlyphs" fill="#3a3a48">Warm</text>
</g>
<g id="legend">
<rect x="18.3" y="486.2" width="559.5" height="72.5" fill="#fff" stroke="none" stroke-width="1.00"/>
<line x1="17.8" y1="486.0" x2="578.4" y2="486.0" stroke="#808080" stroke-width="1.60"/>
<line x1="17.8" y1="558.8" x2="578.4" y2="558.8" stroke="#808080" stroke-width="1.60"/>
<line x1="18.4" y1="485.3" x2="18.4" y2="559.5" stroke="#2a2a2a" stroke-width="1.10"/>
<line x1="577.8" y1="485.3" x2="577.8" y2="559.5" stroke="#2a2a2a" stroke-width="1.10"/>
<line x1="27.0" y1="493.3" x2="37.0" y2="493.3" stroke="#f0692a" stroke-width="1.70"/>
<text stroke="#231f20" stroke-width="0.22" x="38.5" y="496.6" font-size="9.20" textLength="82.0" lengthAdjust="spacingAndGlyphs">North Tibetan Plateau</text>
<line x1="27.0" y1="504.1" x2="37.0" y2="504.1" stroke="#30c0f0" stroke-width="1.80"/>
<text stroke="#231f20" stroke-width="0.22" x="38.5" y="507.4" font-size="9.20" textLength="61.5" lengthAdjust="spacingAndGlyphs">South China Sea</text>
<line x1="27.0" y1="515.3" x2="37.0" y2="515.3" stroke="#4d5896" stroke-width="1.10"/>
<text stroke="#231f20" stroke-width="0.22" x="38.5" y="518.5" font-size="9.20" textLength="59.5" lengthAdjust="spacingAndGlyphs">Grassland fauna</text>
<text stroke="#231f20" stroke-width="0.22" x="38.5" y="528.2" font-size="9.20" textLength="102.3" lengthAdjust="spacingAndGlyphs">(Linxia and Lanzhou Basins)</text>
<line x1="27.0" y1="535.3" x2="37.0" y2="535.3" stroke="#a8953a" stroke-width="1.60"/>
<text stroke="#231f20" stroke-width="0.22" x="38.5" y="538.5" font-size="9.20" textLength="78.5" lengthAdjust="spacingAndGlyphs">North and north-east</text>
<text stroke="#231f20" stroke-width="0.22" x="38.5" y="547.5" font-size="9.20" textLength="58.2" lengthAdjust="spacingAndGlyphs">Tibetan Plateau</text>
<text stroke="#231f20" stroke-width="0.10" x="147.5" y="495.5" font-size="9.20" font-weight="bold" textLength="57.2" lengthAdjust="spacingAndGlyphs">Aeolian flux in</text>
<text stroke="#231f20" stroke-width="0.10" x="147.5" y="504.8" font-size="9.20" font-weight="bold" textLength="68.8" lengthAdjust="spacingAndGlyphs">the Pacific Ocean</text>
<line x1="146.3" y1="513.0" x2="156.7" y2="513.0" stroke="#0a0a0a" stroke-width="1.70"/>
<text stroke="#231f20" stroke-width="0.22" x="158.7" y="516.1" font-size="9.20" textLength="38.0" lengthAdjust="spacingAndGlyphs">Site GPC3</text>
<line x1="146.3" y1="522.0" x2="156.7" y2="522.0" stroke="#3558b8" stroke-width="1.40"/>
<text stroke="#231f20" stroke-width="0.22" x="158.7" y="527.0" font-size="9.20" textLength="34.3" lengthAdjust="spacingAndGlyphs">Site 1208</text>
<line x1="146.3" y1="532.6" x2="156.7" y2="532.6" stroke="#7444b4" stroke-width="2.00"/>
<text stroke="#231f20" stroke-width="0.22" x="158.7" y="536.7" font-size="9.20" textLength="29.6" lengthAdjust="spacingAndGlyphs">Site 883</text>
<line x1="218.3" y1="513.0" x2="227.8" y2="513.0" stroke="#62c050" stroke-width="1.50"/>
<text stroke="#231f20" stroke-width="0.22" x="231.7" y="516.1" font-size="9.20" textLength="83.6" lengthAdjust="spacingAndGlyphs">Moisture-loving plants</text>
<line x1="218.3" y1="522.3" x2="227.8" y2="522.3" stroke="#dcc530" stroke-width="1.40"/>
<text stroke="#231f20" stroke-width="0.22" x="231.7" y="527.0" font-size="9.20" textLength="66.1" lengthAdjust="spacingAndGlyphs">Xerophytic plants</text>
<line x1="218.3" y1="533.5" x2="227.8" y2="533.5" stroke="#5e359e" stroke-width="1.10"/>
<text stroke="#231f20" stroke-width="0.22" x="230.3" y="536.7" font-size="9.20" textLength="28.4" lengthAdjust="spacingAndGlyphs">Salinity</text>
<text stroke="#231f20" stroke-width="0.10" x="345.0" y="495.5" font-size="9.20" font-weight="bold" textLength="65.5" lengthAdjust="spacingAndGlyphs">Palaeo-elevation</text>
<line x1="324.2" y1="502.9" x2="332.0" y2="502.9" stroke="#c08660" stroke-width="1.30"/>
<line x1="332.8" y1="502.9" x2="340.5" y2="502.9" stroke="#c08660" stroke-width="1.30" stroke-dasharray="1.3 1"/>
<text stroke="#231f20" stroke-width="0.22" x="345.0" y="505.9" font-size="9.20" textLength="110.3" lengthAdjust="spacingAndGlyphs">North-eastern Tibet (Qaidam)</text>
<line x1="324.2" y1="512.8" x2="332.0" y2="512.8" stroke="#4f8040" stroke-width="1.40"/>
<line x1="332.8" y1="512.8" x2="340.5" y2="512.8" stroke="#4f8040" stroke-width="1.40" stroke-dasharray="1.3 1"/>
<text stroke="#231f20" stroke-width="0.22" x="345.0" y="515.9" font-size="9.20" textLength="75.8" lengthAdjust="spacingAndGlyphs">North Tibet (Hoh Xil)</text>
<line x1="324.2" y1="522.9" x2="341.6" y2="522.9" stroke="#3fc0ee" stroke-width="1.40" stroke-dasharray="1.1 0.9"/>
<text stroke="#231f20" stroke-width="0.22" x="345.0" y="525.9" font-size="9.20" textLength="62.5" lengthAdjust="spacingAndGlyphs">Himalaya orogen</text>
<line x1="324.2" y1="532.8" x2="340.8" y2="532.8" stroke="#5c2f9e" stroke-width="1.40" stroke-dasharray="6.4 0.9 4 0.9 6"/>
<text stroke="#231f20" stroke-width="0.22" x="345.0" y="535.8" font-size="9.20" textLength="72.0" lengthAdjust="spacingAndGlyphs">South-central Tibet</text>
<line x1="324.2" y1="542.6" x2="340.8" y2="542.6" stroke="#8c2148" stroke-width="1.50"/>
<text stroke="#231f20" stroke-width="0.22" x="345.0" y="545.6" font-size="9.20" textLength="47.5" lengthAdjust="spacingAndGlyphs">Central Tibet</text>
<line x1="324.2" y1="552.3" x2="340.8" y2="552.3" stroke="#0a0a0a" stroke-width="1.60"/>
<text stroke="#231f20" stroke-width="0.22" x="345.0" y="555.3" font-size="9.20" textLength="42.2" lengthAdjust="spacingAndGlyphs">South Tibet</text>
<text stroke="#231f20" stroke-width="0.10" x="481.3" y="495.5" font-size="9.20" font-weight="bold" textLength="70.4" lengthAdjust="spacingAndGlyphs">Convergence rate</text>
<line x1="462.0" y1="503.1" x2="479.2" y2="503.1" stroke="#3a9a44" stroke-width="1.50"/>
<text stroke="#231f20" stroke-width="0.22" x="481.3" y="506.1" font-size="9.20" textLength="79.0" lengthAdjust="spacingAndGlyphs">(Lee and Lawer, 1995)</text>
<line x1="461.4" y1="513.1" x2="479.4" y2="513.1" stroke="#2f4f8a" stroke-width="1.60" stroke-dasharray="8 2"/>
<text stroke="#231f20" stroke-width="0.22" x="481.3" y="516.1" font-size="9.20" textLength="92.0" lengthAdjust="spacingAndGlyphs">(Molnar and Stock, 2009)</text>
<line x1="462.0" y1="523.9" x2="479.2" y2="523.9" stroke="#a87830" stroke-width="1.50"/>
<text stroke="#231f20" stroke-width="0.22" x="481.3" y="527.1" font-size="9.20" textLength="59.9" lengthAdjust="spacingAndGlyphs">(van Hinsbergen</text>
<text stroke="#231f20" stroke-width="0.22" x="481.3" y="536.8" font-size="9.20" textLength="42.0" lengthAdjust="spacingAndGlyphs">et al., 2011)</text>
</g>
</svg>
</body>
</html>
